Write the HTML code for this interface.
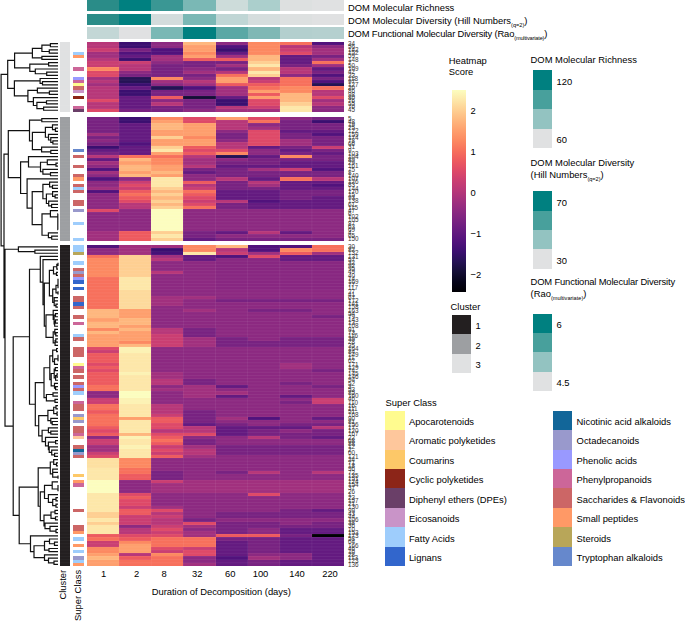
<!DOCTYPE html>
<html><head><meta charset="utf-8"><style>
html,body{margin:0;padding:0;background:#fff;}
body{width:685px;height:621px;overflow:hidden;position:relative;font-family:"Liberation Sans",sans-serif;color:#000;}
.t{position:absolute;white-space:nowrap;font-size:9.4px;line-height:1;transform:scaleY(1.03);transform-origin:0 7.96px;}
.sub{font-size:5.6px;vertical-align:-3.4px;}
.box{position:absolute;}
svg{position:absolute;left:0;top:0;}
#wrap{position:absolute;left:0;top:0;width:685px;height:621px;background:#fff;}
</style></head><body><div id="wrap">
<svg width="685" height="621" viewBox="0 0 685 621" font-family="Liberation Sans, sans-serif" shape-rendering="crispEdges">
<rect x="87.00" y="0" width="32.42" height="11.30" fill="#2a8c88"/>
<rect x="119.12" y="0" width="32.42" height="11.30" fill="#008080"/>
<rect x="151.25" y="0" width="32.42" height="11.30" fill="#3a9794"/>
<rect x="183.38" y="0" width="32.42" height="11.30" fill="#7ab8b5"/>
<rect x="215.50" y="0" width="32.42" height="11.30" fill="#cddcda"/>
<rect x="247.62" y="0" width="32.42" height="11.30" fill="#abcfcc"/>
<rect x="279.75" y="0" width="32.42" height="11.30" fill="#dde0e0"/>
<rect x="311.88" y="0" width="32.42" height="11.30" fill="#e0e1e2"/>
<rect x="87.00" y="13.6" width="32.42" height="11.30" fill="#2a8c88"/>
<rect x="119.12" y="13.6" width="32.42" height="11.30" fill="#008080"/>
<rect x="151.25" y="13.6" width="32.42" height="11.30" fill="#d3dcdc"/>
<rect x="183.38" y="13.6" width="32.42" height="11.30" fill="#7ab8b5"/>
<rect x="215.50" y="13.6" width="32.42" height="11.30" fill="#c0d6d5"/>
<rect x="247.62" y="13.6" width="32.42" height="11.30" fill="#d5dddd"/>
<rect x="279.75" y="13.6" width="32.42" height="11.30" fill="#dde0e0"/>
<rect x="311.88" y="13.6" width="32.42" height="11.30" fill="#e0e1e2"/>
<rect x="87.00" y="27.2" width="32.42" height="11.40" fill="#c3d7d6"/>
<rect x="119.12" y="27.2" width="32.42" height="11.40" fill="#e0e1e2"/>
<rect x="151.25" y="27.2" width="32.42" height="11.40" fill="#7ab8b5"/>
<rect x="183.38" y="27.2" width="32.42" height="11.40" fill="#008080"/>
<rect x="215.50" y="27.2" width="32.42" height="11.40" fill="#5aa8a5"/>
<rect x="247.62" y="27.2" width="32.42" height="11.40" fill="#7fb8b5"/>
<rect x="279.75" y="27.2" width="32.42" height="11.40" fill="#b3cfce"/>
<rect x="311.88" y="27.2" width="32.42" height="11.40" fill="#b5d0cf"/>
<rect x="87.00" y="42.00" width="32.42" height="3.47" fill="#b73779"/>
<rect x="119.12" y="42.00" width="32.42" height="3.47" fill="#3b0f70"/>
<rect x="151.25" y="42.00" width="32.42" height="3.47" fill="#8c2981"/>
<rect x="183.38" y="42.00" width="32.42" height="3.47" fill="#feb77e"/>
<rect x="215.50" y="42.00" width="32.42" height="3.47" fill="#8c2981"/>
<rect x="247.62" y="42.00" width="32.42" height="3.47" fill="#fc8961"/>
<rect x="279.75" y="42.00" width="32.42" height="3.47" fill="#f7705c"/>
<rect x="311.88" y="42.00" width="32.42" height="3.47" fill="#51127c"/>
<rect x="87.00" y="45.17" width="32.42" height="3.47" fill="#b73779"/>
<rect x="119.12" y="45.17" width="32.42" height="3.47" fill="#3b0f70"/>
<rect x="151.25" y="45.17" width="32.42" height="3.47" fill="#8c2981"/>
<rect x="183.38" y="45.17" width="32.42" height="3.47" fill="#fe9f6d"/>
<rect x="215.50" y="45.17" width="32.42" height="3.47" fill="#51127c"/>
<rect x="247.62" y="45.17" width="32.42" height="3.47" fill="#fc8961"/>
<rect x="279.75" y="45.17" width="32.42" height="3.47" fill="#b73779"/>
<rect x="311.88" y="45.17" width="32.42" height="3.47" fill="#8c2981"/>
<rect x="87.00" y="48.35" width="32.42" height="3.47" fill="#ca3e72"/>
<rect x="119.12" y="48.35" width="32.42" height="3.47" fill="#782281"/>
<rect x="151.25" y="48.35" width="32.42" height="3.47" fill="#51127c"/>
<rect x="183.38" y="48.35" width="32.42" height="3.47" fill="#fe9f6d"/>
<rect x="215.50" y="48.35" width="32.42" height="3.47" fill="#3b0f70"/>
<rect x="247.62" y="48.35" width="32.42" height="3.47" fill="#fc8961"/>
<rect x="279.75" y="48.35" width="32.42" height="3.47" fill="#ca3e72"/>
<rect x="311.88" y="48.35" width="32.42" height="3.47" fill="#a1307e"/>
<rect x="87.00" y="51.52" width="32.42" height="3.47" fill="#a1307e"/>
<rect x="119.12" y="51.52" width="32.42" height="3.47" fill="#51127c"/>
<rect x="151.25" y="51.52" width="32.42" height="3.47" fill="#51127c"/>
<rect x="183.38" y="51.52" width="32.42" height="3.47" fill="#fc8961"/>
<rect x="215.50" y="51.52" width="32.42" height="3.47" fill="#641a80"/>
<rect x="247.62" y="51.52" width="32.42" height="3.47" fill="#fc8961"/>
<rect x="279.75" y="51.52" width="32.42" height="3.47" fill="#de4968"/>
<rect x="311.88" y="51.52" width="32.42" height="3.47" fill="#a1307e"/>
<rect x="87.00" y="54.70" width="32.42" height="3.47" fill="#a1307e"/>
<rect x="119.12" y="54.70" width="32.42" height="3.47" fill="#641a80"/>
<rect x="151.25" y="54.70" width="32.42" height="3.47" fill="#a1307e"/>
<rect x="183.38" y="54.70" width="32.42" height="3.47" fill="#fe9f6d"/>
<rect x="215.50" y="54.70" width="32.42" height="3.47" fill="#a1307e"/>
<rect x="247.62" y="54.70" width="32.42" height="3.47" fill="#feb77e"/>
<rect x="279.75" y="54.70" width="32.42" height="3.47" fill="#641a80"/>
<rect x="311.88" y="54.70" width="32.42" height="3.47" fill="#782281"/>
<rect x="87.00" y="57.88" width="32.42" height="3.47" fill="#b73779"/>
<rect x="119.12" y="57.88" width="32.42" height="3.47" fill="#3b0f70"/>
<rect x="151.25" y="57.88" width="32.42" height="3.47" fill="#a1307e"/>
<rect x="183.38" y="57.88" width="32.42" height="3.47" fill="#ed5a5f"/>
<rect x="215.50" y="57.88" width="32.42" height="3.47" fill="#ed5a5f"/>
<rect x="247.62" y="57.88" width="32.42" height="3.47" fill="#feb77e"/>
<rect x="279.75" y="57.88" width="32.42" height="3.47" fill="#641a80"/>
<rect x="311.88" y="57.88" width="32.42" height="3.47" fill="#a1307e"/>
<rect x="87.00" y="61.05" width="32.42" height="3.47" fill="#ca3e72"/>
<rect x="119.12" y="61.05" width="32.42" height="3.47" fill="#ca3e72"/>
<rect x="151.25" y="61.05" width="32.42" height="3.47" fill="#8c2981"/>
<rect x="183.38" y="61.05" width="32.42" height="3.47" fill="#782281"/>
<rect x="215.50" y="61.05" width="32.42" height="3.47" fill="#782281"/>
<rect x="247.62" y="61.05" width="32.42" height="3.47" fill="#fecf92"/>
<rect x="279.75" y="61.05" width="32.42" height="3.47" fill="#641a80"/>
<rect x="311.88" y="61.05" width="32.42" height="3.47" fill="#f7705c"/>
<rect x="87.00" y="64.22" width="32.42" height="3.47" fill="#ca3e72"/>
<rect x="119.12" y="64.22" width="32.42" height="3.47" fill="#b73779"/>
<rect x="151.25" y="64.22" width="32.42" height="3.47" fill="#782281"/>
<rect x="183.38" y="64.22" width="32.42" height="3.47" fill="#782281"/>
<rect x="215.50" y="64.22" width="32.42" height="3.47" fill="#a1307e"/>
<rect x="247.62" y="64.22" width="32.42" height="3.47" fill="#fde7a9"/>
<rect x="279.75" y="64.22" width="32.42" height="3.47" fill="#782281"/>
<rect x="311.88" y="64.22" width="32.42" height="3.47" fill="#a1307e"/>
<rect x="87.00" y="67.40" width="32.42" height="3.47" fill="#fc8961"/>
<rect x="119.12" y="67.40" width="32.42" height="3.47" fill="#b73779"/>
<rect x="151.25" y="67.40" width="32.42" height="3.47" fill="#782281"/>
<rect x="183.38" y="67.40" width="32.42" height="3.47" fill="#8c2981"/>
<rect x="215.50" y="67.40" width="32.42" height="3.47" fill="#782281"/>
<rect x="247.62" y="67.40" width="32.42" height="3.47" fill="#feb77e"/>
<rect x="279.75" y="67.40" width="32.42" height="3.47" fill="#b73779"/>
<rect x="311.88" y="67.40" width="32.42" height="3.47" fill="#641a80"/>
<rect x="87.00" y="70.58" width="32.42" height="3.47" fill="#de4968"/>
<rect x="119.12" y="70.58" width="32.42" height="3.47" fill="#8c2981"/>
<rect x="151.25" y="70.58" width="32.42" height="3.47" fill="#782281"/>
<rect x="183.38" y="70.58" width="32.42" height="3.47" fill="#a1307e"/>
<rect x="215.50" y="70.58" width="32.42" height="3.47" fill="#b73779"/>
<rect x="247.62" y="70.58" width="32.42" height="3.47" fill="#fde7a9"/>
<rect x="279.75" y="70.58" width="32.42" height="3.47" fill="#b73779"/>
<rect x="311.88" y="70.58" width="32.42" height="3.47" fill="#782281"/>
<rect x="87.00" y="73.75" width="32.42" height="3.47" fill="#de4968"/>
<rect x="119.12" y="73.75" width="32.42" height="3.47" fill="#782281"/>
<rect x="151.25" y="73.75" width="32.42" height="3.47" fill="#782281"/>
<rect x="183.38" y="73.75" width="32.42" height="3.47" fill="#782281"/>
<rect x="215.50" y="73.75" width="32.42" height="3.47" fill="#f7705c"/>
<rect x="247.62" y="73.75" width="32.42" height="3.47" fill="#fecf92"/>
<rect x="279.75" y="73.75" width="32.42" height="3.47" fill="#8c2981"/>
<rect x="311.88" y="73.75" width="32.42" height="3.47" fill="#51127c"/>
<rect x="87.00" y="76.92" width="32.42" height="3.47" fill="#a1307e"/>
<rect x="119.12" y="76.92" width="32.42" height="3.47" fill="#251255"/>
<rect x="151.25" y="76.92" width="32.42" height="3.47" fill="#fc8961"/>
<rect x="183.38" y="76.92" width="32.42" height="3.47" fill="#8c2981"/>
<rect x="215.50" y="76.92" width="32.42" height="3.47" fill="#fe9f6d"/>
<rect x="247.62" y="76.92" width="32.42" height="3.47" fill="#b73779"/>
<rect x="279.75" y="76.92" width="32.42" height="3.47" fill="#f7705c"/>
<rect x="311.88" y="76.92" width="32.42" height="3.47" fill="#782281"/>
<rect x="87.00" y="80.10" width="32.42" height="3.47" fill="#b73779"/>
<rect x="119.12" y="80.10" width="32.42" height="3.47" fill="#251255"/>
<rect x="151.25" y="80.10" width="32.42" height="3.47" fill="#a1307e"/>
<rect x="183.38" y="80.10" width="32.42" height="3.47" fill="#b73779"/>
<rect x="215.50" y="80.10" width="32.42" height="3.47" fill="#fe9f6d"/>
<rect x="247.62" y="80.10" width="32.42" height="3.47" fill="#ca3e72"/>
<rect x="279.75" y="80.10" width="32.42" height="3.47" fill="#f7705c"/>
<rect x="311.88" y="80.10" width="32.42" height="3.47" fill="#51127c"/>
<rect x="87.00" y="83.28" width="32.42" height="3.47" fill="#a1307e"/>
<rect x="119.12" y="83.28" width="32.42" height="3.47" fill="#3b0f70"/>
<rect x="151.25" y="83.28" width="32.42" height="3.47" fill="#8c2981"/>
<rect x="183.38" y="83.28" width="32.42" height="3.47" fill="#a1307e"/>
<rect x="215.50" y="83.28" width="32.42" height="3.47" fill="#ed5a5f"/>
<rect x="247.62" y="83.28" width="32.42" height="3.47" fill="#ed5a5f"/>
<rect x="279.75" y="83.28" width="32.42" height="3.47" fill="#f7705c"/>
<rect x="311.88" y="83.28" width="32.42" height="3.47" fill="#251255"/>
<rect x="87.00" y="86.45" width="32.42" height="3.47" fill="#b73779"/>
<rect x="119.12" y="86.45" width="32.42" height="3.47" fill="#641a80"/>
<rect x="151.25" y="86.45" width="32.42" height="3.47" fill="#251255"/>
<rect x="183.38" y="86.45" width="32.42" height="3.47" fill="#51127c"/>
<rect x="215.50" y="86.45" width="32.42" height="3.47" fill="#a1307e"/>
<rect x="247.62" y="86.45" width="32.42" height="3.47" fill="#f7705c"/>
<rect x="279.75" y="86.45" width="32.42" height="3.47" fill="#fc8961"/>
<rect x="311.88" y="86.45" width="32.42" height="3.47" fill="#f7705c"/>
<rect x="87.00" y="89.62" width="32.42" height="3.47" fill="#b73779"/>
<rect x="119.12" y="89.62" width="32.42" height="3.47" fill="#3b0f70"/>
<rect x="151.25" y="89.62" width="32.42" height="3.47" fill="#782281"/>
<rect x="183.38" y="89.62" width="32.42" height="3.47" fill="#782281"/>
<rect x="215.50" y="89.62" width="32.42" height="3.47" fill="#a1307e"/>
<rect x="247.62" y="89.62" width="32.42" height="3.47" fill="#fe9f6d"/>
<rect x="279.75" y="89.62" width="32.42" height="3.47" fill="#fc8961"/>
<rect x="311.88" y="89.62" width="32.42" height="3.47" fill="#b73779"/>
<rect x="87.00" y="92.80" width="32.42" height="3.47" fill="#b73779"/>
<rect x="119.12" y="92.80" width="32.42" height="3.47" fill="#3b0f70"/>
<rect x="151.25" y="92.80" width="32.42" height="3.47" fill="#782281"/>
<rect x="183.38" y="92.80" width="32.42" height="3.47" fill="#782281"/>
<rect x="215.50" y="92.80" width="32.42" height="3.47" fill="#a1307e"/>
<rect x="247.62" y="92.80" width="32.42" height="3.47" fill="#ed5a5f"/>
<rect x="279.75" y="92.80" width="32.42" height="3.47" fill="#feb77e"/>
<rect x="311.88" y="92.80" width="32.42" height="3.47" fill="#b73779"/>
<rect x="87.00" y="95.97" width="32.42" height="3.47" fill="#b73779"/>
<rect x="119.12" y="95.97" width="32.42" height="3.47" fill="#641a80"/>
<rect x="151.25" y="95.97" width="32.42" height="3.47" fill="#ed5a5f"/>
<rect x="183.38" y="95.97" width="32.42" height="3.47" fill="#140e36"/>
<rect x="215.50" y="95.97" width="32.42" height="3.47" fill="#641a80"/>
<rect x="247.62" y="95.97" width="32.42" height="3.47" fill="#fe9f6d"/>
<rect x="279.75" y="95.97" width="32.42" height="3.47" fill="#feb77e"/>
<rect x="311.88" y="95.97" width="32.42" height="3.47" fill="#de4968"/>
<rect x="87.00" y="99.15" width="32.42" height="3.47" fill="#de4968"/>
<rect x="119.12" y="99.15" width="32.42" height="3.47" fill="#641a80"/>
<rect x="151.25" y="99.15" width="32.42" height="3.47" fill="#8c2981"/>
<rect x="183.38" y="99.15" width="32.42" height="3.47" fill="#782281"/>
<rect x="215.50" y="99.15" width="32.42" height="3.47" fill="#3b0f70"/>
<rect x="247.62" y="99.15" width="32.42" height="3.47" fill="#de4968"/>
<rect x="279.75" y="99.15" width="32.42" height="3.47" fill="#feb77e"/>
<rect x="311.88" y="99.15" width="32.42" height="3.47" fill="#a1307e"/>
<rect x="87.00" y="102.32" width="32.42" height="3.47" fill="#b73779"/>
<rect x="119.12" y="102.32" width="32.42" height="3.47" fill="#641a80"/>
<rect x="151.25" y="102.32" width="32.42" height="3.47" fill="#b73779"/>
<rect x="183.38" y="102.32" width="32.42" height="3.47" fill="#782281"/>
<rect x="215.50" y="102.32" width="32.42" height="3.47" fill="#3b0f70"/>
<rect x="247.62" y="102.32" width="32.42" height="3.47" fill="#de4968"/>
<rect x="279.75" y="102.32" width="32.42" height="3.47" fill="#fecf92"/>
<rect x="311.88" y="102.32" width="32.42" height="3.47" fill="#b73779"/>
<rect x="87.00" y="105.50" width="32.42" height="3.47" fill="#b73779"/>
<rect x="119.12" y="105.50" width="32.42" height="3.47" fill="#641a80"/>
<rect x="151.25" y="105.50" width="32.42" height="3.47" fill="#782281"/>
<rect x="183.38" y="105.50" width="32.42" height="3.47" fill="#782281"/>
<rect x="215.50" y="105.50" width="32.42" height="3.47" fill="#b73779"/>
<rect x="247.62" y="105.50" width="32.42" height="3.47" fill="#ca3e72"/>
<rect x="279.75" y="105.50" width="32.42" height="3.47" fill="#fde7a9"/>
<rect x="311.88" y="105.50" width="32.42" height="3.47" fill="#8c2981"/>
<rect x="87.00" y="108.67" width="32.42" height="3.47" fill="#de4968"/>
<rect x="119.12" y="108.67" width="32.42" height="3.47" fill="#782281"/>
<rect x="151.25" y="108.67" width="32.42" height="3.47" fill="#782281"/>
<rect x="183.38" y="108.67" width="32.42" height="3.47" fill="#8c2981"/>
<rect x="215.50" y="108.67" width="32.42" height="3.47" fill="#a1307e"/>
<rect x="247.62" y="108.67" width="32.42" height="3.47" fill="#a1307e"/>
<rect x="279.75" y="108.67" width="32.42" height="3.47" fill="#fde7a9"/>
<rect x="311.88" y="108.67" width="32.42" height="3.47" fill="#8c2981"/>
<rect x="87.00" y="117.00" width="32.42" height="3.47" fill="#782281"/>
<rect x="119.12" y="117.00" width="32.42" height="3.47" fill="#3b0f70"/>
<rect x="151.25" y="117.00" width="32.42" height="3.47" fill="#fc8961"/>
<rect x="183.38" y="117.00" width="32.42" height="3.47" fill="#de4968"/>
<rect x="215.50" y="117.00" width="32.42" height="3.47" fill="#fe9f6d"/>
<rect x="247.62" y="117.00" width="32.42" height="3.47" fill="#de4968"/>
<rect x="279.75" y="117.00" width="32.42" height="3.47" fill="#8c2981"/>
<rect x="311.88" y="117.00" width="32.42" height="3.47" fill="#782281"/>
<rect x="87.00" y="120.17" width="32.42" height="3.47" fill="#782281"/>
<rect x="119.12" y="120.17" width="32.42" height="3.47" fill="#3b0f70"/>
<rect x="151.25" y="120.17" width="32.42" height="3.47" fill="#fe9f6d"/>
<rect x="183.38" y="120.17" width="32.42" height="3.47" fill="#de4968"/>
<rect x="215.50" y="120.17" width="32.42" height="3.47" fill="#b73779"/>
<rect x="247.62" y="120.17" width="32.42" height="3.47" fill="#f7705c"/>
<rect x="279.75" y="120.17" width="32.42" height="3.47" fill="#782281"/>
<rect x="311.88" y="120.17" width="32.42" height="3.47" fill="#3b0f70"/>
<rect x="87.00" y="123.35" width="32.42" height="3.47" fill="#782281"/>
<rect x="119.12" y="123.35" width="32.42" height="3.47" fill="#641a80"/>
<rect x="151.25" y="123.35" width="32.42" height="3.47" fill="#feb77e"/>
<rect x="183.38" y="123.35" width="32.42" height="3.47" fill="#fe9f6d"/>
<rect x="215.50" y="123.35" width="32.42" height="3.47" fill="#b73779"/>
<rect x="247.62" y="123.35" width="32.42" height="3.47" fill="#8c2981"/>
<rect x="279.75" y="123.35" width="32.42" height="3.47" fill="#782281"/>
<rect x="311.88" y="123.35" width="32.42" height="3.47" fill="#782281"/>
<rect x="87.00" y="126.53" width="32.42" height="3.47" fill="#782281"/>
<rect x="119.12" y="126.53" width="32.42" height="3.47" fill="#641a80"/>
<rect x="151.25" y="126.53" width="32.42" height="3.47" fill="#feb77e"/>
<rect x="183.38" y="126.53" width="32.42" height="3.47" fill="#fe9f6d"/>
<rect x="215.50" y="126.53" width="32.42" height="3.47" fill="#b73779"/>
<rect x="247.62" y="126.53" width="32.42" height="3.47" fill="#a1307e"/>
<rect x="279.75" y="126.53" width="32.42" height="3.47" fill="#782281"/>
<rect x="311.88" y="126.53" width="32.42" height="3.47" fill="#782281"/>
<rect x="87.00" y="129.70" width="32.42" height="3.47" fill="#782281"/>
<rect x="119.12" y="129.70" width="32.42" height="3.47" fill="#641a80"/>
<rect x="151.25" y="129.70" width="32.42" height="3.47" fill="#fe9f6d"/>
<rect x="183.38" y="129.70" width="32.42" height="3.47" fill="#fe9f6d"/>
<rect x="215.50" y="129.70" width="32.42" height="3.47" fill="#8c2981"/>
<rect x="247.62" y="129.70" width="32.42" height="3.47" fill="#de4968"/>
<rect x="279.75" y="129.70" width="32.42" height="3.47" fill="#641a80"/>
<rect x="311.88" y="129.70" width="32.42" height="3.47" fill="#641a80"/>
<rect x="87.00" y="132.88" width="32.42" height="3.47" fill="#a1307e"/>
<rect x="119.12" y="132.88" width="32.42" height="3.47" fill="#641a80"/>
<rect x="151.25" y="132.88" width="32.42" height="3.47" fill="#fe9f6d"/>
<rect x="183.38" y="132.88" width="32.42" height="3.47" fill="#fe9f6d"/>
<rect x="215.50" y="132.88" width="32.42" height="3.47" fill="#782281"/>
<rect x="247.62" y="132.88" width="32.42" height="3.47" fill="#de4968"/>
<rect x="279.75" y="132.88" width="32.42" height="3.47" fill="#782281"/>
<rect x="311.88" y="132.88" width="32.42" height="3.47" fill="#51127c"/>
<rect x="87.00" y="136.05" width="32.42" height="3.47" fill="#782281"/>
<rect x="119.12" y="136.05" width="32.42" height="3.47" fill="#641a80"/>
<rect x="151.25" y="136.05" width="32.42" height="3.47" fill="#fecf92"/>
<rect x="183.38" y="136.05" width="32.42" height="3.47" fill="#fc8961"/>
<rect x="215.50" y="136.05" width="32.42" height="3.47" fill="#782281"/>
<rect x="247.62" y="136.05" width="32.42" height="3.47" fill="#de4968"/>
<rect x="279.75" y="136.05" width="32.42" height="3.47" fill="#782281"/>
<rect x="311.88" y="136.05" width="32.42" height="3.47" fill="#782281"/>
<rect x="87.00" y="139.22" width="32.42" height="3.47" fill="#8c2981"/>
<rect x="119.12" y="139.22" width="32.42" height="3.47" fill="#641a80"/>
<rect x="151.25" y="139.22" width="32.42" height="3.47" fill="#fe9f6d"/>
<rect x="183.38" y="139.22" width="32.42" height="3.47" fill="#fe9f6d"/>
<rect x="215.50" y="139.22" width="32.42" height="3.47" fill="#8c2981"/>
<rect x="247.62" y="139.22" width="32.42" height="3.47" fill="#de4968"/>
<rect x="279.75" y="139.22" width="32.42" height="3.47" fill="#a1307e"/>
<rect x="311.88" y="139.22" width="32.42" height="3.47" fill="#782281"/>
<rect x="87.00" y="142.40" width="32.42" height="3.47" fill="#782281"/>
<rect x="119.12" y="142.40" width="32.42" height="3.47" fill="#51127c"/>
<rect x="151.25" y="142.40" width="32.42" height="3.47" fill="#fe9f6d"/>
<rect x="183.38" y="142.40" width="32.42" height="3.47" fill="#fe9f6d"/>
<rect x="215.50" y="142.40" width="32.42" height="3.47" fill="#b73779"/>
<rect x="247.62" y="142.40" width="32.42" height="3.47" fill="#de4968"/>
<rect x="279.75" y="142.40" width="32.42" height="3.47" fill="#a1307e"/>
<rect x="311.88" y="142.40" width="32.42" height="3.47" fill="#782281"/>
<rect x="87.00" y="145.57" width="32.42" height="3.47" fill="#3b0f70"/>
<rect x="119.12" y="145.57" width="32.42" height="3.47" fill="#641a80"/>
<rect x="151.25" y="145.57" width="32.42" height="3.47" fill="#fecf92"/>
<rect x="183.38" y="145.57" width="32.42" height="3.47" fill="#ed5a5f"/>
<rect x="215.50" y="145.57" width="32.42" height="3.47" fill="#b73779"/>
<rect x="247.62" y="145.57" width="32.42" height="3.47" fill="#641a80"/>
<rect x="279.75" y="145.57" width="32.42" height="3.47" fill="#782281"/>
<rect x="311.88" y="145.57" width="32.42" height="3.47" fill="#ca3e72"/>
<rect x="87.00" y="148.75" width="32.42" height="3.47" fill="#641a80"/>
<rect x="119.12" y="148.75" width="32.42" height="3.47" fill="#641a80"/>
<rect x="151.25" y="148.75" width="32.42" height="3.47" fill="#fde7a9"/>
<rect x="183.38" y="148.75" width="32.42" height="3.47" fill="#de4968"/>
<rect x="215.50" y="148.75" width="32.42" height="3.47" fill="#de4968"/>
<rect x="247.62" y="148.75" width="32.42" height="3.47" fill="#8c2981"/>
<rect x="279.75" y="148.75" width="32.42" height="3.47" fill="#641a80"/>
<rect x="311.88" y="148.75" width="32.42" height="3.47" fill="#782281"/>
<rect x="87.00" y="151.93" width="32.42" height="3.47" fill="#782281"/>
<rect x="119.12" y="151.93" width="32.42" height="3.47" fill="#641a80"/>
<rect x="151.25" y="151.93" width="32.42" height="3.47" fill="#fe9f6d"/>
<rect x="183.38" y="151.93" width="32.42" height="3.47" fill="#ed5a5f"/>
<rect x="215.50" y="151.93" width="32.42" height="3.47" fill="#fc8961"/>
<rect x="247.62" y="151.93" width="32.42" height="3.47" fill="#8c2981"/>
<rect x="279.75" y="151.93" width="32.42" height="3.47" fill="#782281"/>
<rect x="311.88" y="151.93" width="32.42" height="3.47" fill="#641a80"/>
<rect x="87.00" y="155.10" width="32.42" height="3.47" fill="#b73779"/>
<rect x="119.12" y="155.10" width="32.42" height="3.47" fill="#f7705c"/>
<rect x="151.25" y="155.10" width="32.42" height="3.47" fill="#f7705c"/>
<rect x="183.38" y="155.10" width="32.42" height="3.47" fill="#b73779"/>
<rect x="215.50" y="155.10" width="32.42" height="3.47" fill="#251255"/>
<rect x="247.62" y="155.10" width="32.42" height="3.47" fill="#641a80"/>
<rect x="279.75" y="155.10" width="32.42" height="3.47" fill="#fc8961"/>
<rect x="311.88" y="155.10" width="32.42" height="3.47" fill="#782281"/>
<rect x="87.00" y="158.28" width="32.42" height="3.47" fill="#641a80"/>
<rect x="119.12" y="158.28" width="32.42" height="3.47" fill="#feb77e"/>
<rect x="151.25" y="158.28" width="32.42" height="3.47" fill="#fc8961"/>
<rect x="183.38" y="158.28" width="32.42" height="3.47" fill="#a1307e"/>
<rect x="215.50" y="158.28" width="32.42" height="3.47" fill="#8c2981"/>
<rect x="247.62" y="158.28" width="32.42" height="3.47" fill="#782281"/>
<rect x="279.75" y="158.28" width="32.42" height="3.47" fill="#782281"/>
<rect x="311.88" y="158.28" width="32.42" height="3.47" fill="#782281"/>
<rect x="87.00" y="161.45" width="32.42" height="3.47" fill="#a1307e"/>
<rect x="119.12" y="161.45" width="32.42" height="3.47" fill="#fe9f6d"/>
<rect x="151.25" y="161.45" width="32.42" height="3.47" fill="#fc8961"/>
<rect x="183.38" y="161.45" width="32.42" height="3.47" fill="#a1307e"/>
<rect x="215.50" y="161.45" width="32.42" height="3.47" fill="#782281"/>
<rect x="247.62" y="161.45" width="32.42" height="3.47" fill="#782281"/>
<rect x="279.75" y="161.45" width="32.42" height="3.47" fill="#641a80"/>
<rect x="311.88" y="161.45" width="32.42" height="3.47" fill="#641a80"/>
<rect x="87.00" y="164.62" width="32.42" height="3.47" fill="#8c2981"/>
<rect x="119.12" y="164.62" width="32.42" height="3.47" fill="#feb77e"/>
<rect x="151.25" y="164.62" width="32.42" height="3.47" fill="#fe9f6d"/>
<rect x="183.38" y="164.62" width="32.42" height="3.47" fill="#b73779"/>
<rect x="215.50" y="164.62" width="32.42" height="3.47" fill="#641a80"/>
<rect x="247.62" y="164.62" width="32.42" height="3.47" fill="#641a80"/>
<rect x="279.75" y="164.62" width="32.42" height="3.47" fill="#641a80"/>
<rect x="311.88" y="164.62" width="32.42" height="3.47" fill="#641a80"/>
<rect x="87.00" y="167.80" width="32.42" height="3.47" fill="#51127c"/>
<rect x="119.12" y="167.80" width="32.42" height="3.47" fill="#feb77e"/>
<rect x="151.25" y="167.80" width="32.42" height="3.47" fill="#fe9f6d"/>
<rect x="183.38" y="167.80" width="32.42" height="3.47" fill="#782281"/>
<rect x="215.50" y="167.80" width="32.42" height="3.47" fill="#782281"/>
<rect x="247.62" y="167.80" width="32.42" height="3.47" fill="#a1307e"/>
<rect x="279.75" y="167.80" width="32.42" height="3.47" fill="#ca3e72"/>
<rect x="311.88" y="167.80" width="32.42" height="3.47" fill="#51127c"/>
<rect x="87.00" y="170.97" width="32.42" height="3.47" fill="#a1307e"/>
<rect x="119.12" y="170.97" width="32.42" height="3.47" fill="#fe9f6d"/>
<rect x="151.25" y="170.97" width="32.42" height="3.47" fill="#feb77e"/>
<rect x="183.38" y="170.97" width="32.42" height="3.47" fill="#641a80"/>
<rect x="215.50" y="170.97" width="32.42" height="3.47" fill="#782281"/>
<rect x="247.62" y="170.97" width="32.42" height="3.47" fill="#782281"/>
<rect x="279.75" y="170.97" width="32.42" height="3.47" fill="#782281"/>
<rect x="311.88" y="170.97" width="32.42" height="3.47" fill="#782281"/>
<rect x="87.00" y="174.15" width="32.42" height="3.47" fill="#8c2981"/>
<rect x="119.12" y="174.15" width="32.42" height="3.47" fill="#feb77e"/>
<rect x="151.25" y="174.15" width="32.42" height="3.47" fill="#fe9f6d"/>
<rect x="183.38" y="174.15" width="32.42" height="3.47" fill="#8c2981"/>
<rect x="215.50" y="174.15" width="32.42" height="3.47" fill="#782281"/>
<rect x="247.62" y="174.15" width="32.42" height="3.47" fill="#782281"/>
<rect x="279.75" y="174.15" width="32.42" height="3.47" fill="#782281"/>
<rect x="311.88" y="174.15" width="32.42" height="3.47" fill="#782281"/>
<rect x="87.00" y="177.32" width="32.42" height="3.47" fill="#51127c"/>
<rect x="119.12" y="177.32" width="32.42" height="3.47" fill="#8c2981"/>
<rect x="151.25" y="177.32" width="32.42" height="3.47" fill="#fde7a9"/>
<rect x="183.38" y="177.32" width="32.42" height="3.47" fill="#8c2981"/>
<rect x="215.50" y="177.32" width="32.42" height="3.47" fill="#b73779"/>
<rect x="247.62" y="177.32" width="32.42" height="3.47" fill="#641a80"/>
<rect x="279.75" y="177.32" width="32.42" height="3.47" fill="#f7705c"/>
<rect x="311.88" y="177.32" width="32.42" height="3.47" fill="#b73779"/>
<rect x="87.00" y="180.50" width="32.42" height="3.47" fill="#8c2981"/>
<rect x="119.12" y="180.50" width="32.42" height="3.47" fill="#ca3e72"/>
<rect x="151.25" y="180.50" width="32.42" height="3.47" fill="#fde7a9"/>
<rect x="183.38" y="180.50" width="32.42" height="3.47" fill="#ed5a5f"/>
<rect x="215.50" y="180.50" width="32.42" height="3.47" fill="#782281"/>
<rect x="247.62" y="180.50" width="32.42" height="3.47" fill="#b73779"/>
<rect x="279.75" y="180.50" width="32.42" height="3.47" fill="#641a80"/>
<rect x="311.88" y="180.50" width="32.42" height="3.47" fill="#641a80"/>
<rect x="87.00" y="183.68" width="32.42" height="3.47" fill="#8c2981"/>
<rect x="119.12" y="183.68" width="32.42" height="3.47" fill="#de4968"/>
<rect x="151.25" y="183.68" width="32.42" height="3.47" fill="#fde7a9"/>
<rect x="183.38" y="183.68" width="32.42" height="3.47" fill="#b73779"/>
<rect x="215.50" y="183.68" width="32.42" height="3.47" fill="#782281"/>
<rect x="247.62" y="183.68" width="32.42" height="3.47" fill="#a1307e"/>
<rect x="279.75" y="183.68" width="32.42" height="3.47" fill="#641a80"/>
<rect x="311.88" y="183.68" width="32.42" height="3.47" fill="#51127c"/>
<rect x="87.00" y="186.85" width="32.42" height="3.47" fill="#a1307e"/>
<rect x="119.12" y="186.85" width="32.42" height="3.47" fill="#ca3e72"/>
<rect x="151.25" y="186.85" width="32.42" height="3.47" fill="#fecf92"/>
<rect x="183.38" y="186.85" width="32.42" height="3.47" fill="#ca3e72"/>
<rect x="215.50" y="186.85" width="32.42" height="3.47" fill="#782281"/>
<rect x="247.62" y="186.85" width="32.42" height="3.47" fill="#782281"/>
<rect x="279.75" y="186.85" width="32.42" height="3.47" fill="#641a80"/>
<rect x="311.88" y="186.85" width="32.42" height="3.47" fill="#641a80"/>
<rect x="87.00" y="190.02" width="32.42" height="3.47" fill="#51127c"/>
<rect x="119.12" y="190.02" width="32.42" height="3.47" fill="#ed5a5f"/>
<rect x="151.25" y="190.02" width="32.42" height="3.47" fill="#feb77e"/>
<rect x="183.38" y="190.02" width="32.42" height="3.47" fill="#f7705c"/>
<rect x="215.50" y="190.02" width="32.42" height="3.47" fill="#641a80"/>
<rect x="247.62" y="190.02" width="32.42" height="3.47" fill="#641a80"/>
<rect x="279.75" y="190.02" width="32.42" height="3.47" fill="#782281"/>
<rect x="311.88" y="190.02" width="32.42" height="3.47" fill="#782281"/>
<rect x="87.00" y="193.20" width="32.42" height="3.47" fill="#8c2981"/>
<rect x="119.12" y="193.20" width="32.42" height="3.47" fill="#f7705c"/>
<rect x="151.25" y="193.20" width="32.42" height="3.47" fill="#fecf92"/>
<rect x="183.38" y="193.20" width="32.42" height="3.47" fill="#ed5a5f"/>
<rect x="215.50" y="193.20" width="32.42" height="3.47" fill="#641a80"/>
<rect x="247.62" y="193.20" width="32.42" height="3.47" fill="#641a80"/>
<rect x="279.75" y="193.20" width="32.42" height="3.47" fill="#782281"/>
<rect x="311.88" y="193.20" width="32.42" height="3.47" fill="#782281"/>
<rect x="87.00" y="196.38" width="32.42" height="3.47" fill="#8c2981"/>
<rect x="119.12" y="196.38" width="32.42" height="3.47" fill="#ed5a5f"/>
<rect x="151.25" y="196.38" width="32.42" height="3.47" fill="#feb77e"/>
<rect x="183.38" y="196.38" width="32.42" height="3.47" fill="#de4968"/>
<rect x="215.50" y="196.38" width="32.42" height="3.47" fill="#641a80"/>
<rect x="247.62" y="196.38" width="32.42" height="3.47" fill="#641a80"/>
<rect x="279.75" y="196.38" width="32.42" height="3.47" fill="#782281"/>
<rect x="311.88" y="196.38" width="32.42" height="3.47" fill="#641a80"/>
<rect x="87.00" y="199.55" width="32.42" height="3.47" fill="#8c2981"/>
<rect x="119.12" y="199.55" width="32.42" height="3.47" fill="#de4968"/>
<rect x="151.25" y="199.55" width="32.42" height="3.47" fill="#fecf92"/>
<rect x="183.38" y="199.55" width="32.42" height="3.47" fill="#ca3e72"/>
<rect x="215.50" y="199.55" width="32.42" height="3.47" fill="#b73779"/>
<rect x="247.62" y="199.55" width="32.42" height="3.47" fill="#51127c"/>
<rect x="279.75" y="199.55" width="32.42" height="3.47" fill="#641a80"/>
<rect x="311.88" y="199.55" width="32.42" height="3.47" fill="#641a80"/>
<rect x="87.00" y="202.72" width="32.42" height="3.47" fill="#8c2981"/>
<rect x="119.12" y="202.72" width="32.42" height="3.47" fill="#b73779"/>
<rect x="151.25" y="202.72" width="32.42" height="3.47" fill="#feb77e"/>
<rect x="183.38" y="202.72" width="32.42" height="3.47" fill="#de4968"/>
<rect x="215.50" y="202.72" width="32.42" height="3.47" fill="#782281"/>
<rect x="247.62" y="202.72" width="32.42" height="3.47" fill="#641a80"/>
<rect x="279.75" y="202.72" width="32.42" height="3.47" fill="#641a80"/>
<rect x="311.88" y="202.72" width="32.42" height="3.47" fill="#641a80"/>
<rect x="87.00" y="205.90" width="32.42" height="3.47" fill="#8c2981"/>
<rect x="119.12" y="205.90" width="32.42" height="3.47" fill="#b73779"/>
<rect x="151.25" y="205.90" width="32.42" height="3.47" fill="#fecf92"/>
<rect x="183.38" y="205.90" width="32.42" height="3.47" fill="#f7705c"/>
<rect x="215.50" y="205.90" width="32.42" height="3.47" fill="#782281"/>
<rect x="247.62" y="205.90" width="32.42" height="3.47" fill="#641a80"/>
<rect x="279.75" y="205.90" width="32.42" height="3.47" fill="#641a80"/>
<rect x="311.88" y="205.90" width="32.42" height="3.47" fill="#641a80"/>
<rect x="87.00" y="209.07" width="32.42" height="3.47" fill="#de4968"/>
<rect x="119.12" y="209.07" width="32.42" height="3.47" fill="#8c2981"/>
<rect x="151.25" y="209.07" width="32.42" height="3.47" fill="#fcfdbf"/>
<rect x="183.38" y="209.07" width="32.42" height="3.47" fill="#8c2981"/>
<rect x="215.50" y="209.07" width="32.42" height="3.47" fill="#8c2981"/>
<rect x="247.62" y="209.07" width="32.42" height="3.47" fill="#8c2981"/>
<rect x="279.75" y="209.07" width="32.42" height="3.47" fill="#8c2981"/>
<rect x="311.88" y="209.07" width="32.42" height="3.47" fill="#8c2981"/>
<rect x="87.00" y="212.25" width="32.42" height="3.47" fill="#8c2981"/>
<rect x="119.12" y="212.25" width="32.42" height="3.47" fill="#8c2981"/>
<rect x="151.25" y="212.25" width="32.42" height="3.47" fill="#fcfdbf"/>
<rect x="183.38" y="212.25" width="32.42" height="3.47" fill="#8c2981"/>
<rect x="215.50" y="212.25" width="32.42" height="3.47" fill="#8c2981"/>
<rect x="247.62" y="212.25" width="32.42" height="3.47" fill="#8c2981"/>
<rect x="279.75" y="212.25" width="32.42" height="3.47" fill="#8c2981"/>
<rect x="311.88" y="212.25" width="32.42" height="3.47" fill="#8c2981"/>
<rect x="87.00" y="215.43" width="32.42" height="3.47" fill="#8c2981"/>
<rect x="119.12" y="215.43" width="32.42" height="3.47" fill="#8c2981"/>
<rect x="151.25" y="215.43" width="32.42" height="3.47" fill="#fcfdbf"/>
<rect x="183.38" y="215.43" width="32.42" height="3.47" fill="#8c2981"/>
<rect x="215.50" y="215.43" width="32.42" height="3.47" fill="#8c2981"/>
<rect x="247.62" y="215.43" width="32.42" height="3.47" fill="#8c2981"/>
<rect x="279.75" y="215.43" width="32.42" height="3.47" fill="#8c2981"/>
<rect x="311.88" y="215.43" width="32.42" height="3.47" fill="#8c2981"/>
<rect x="87.00" y="218.60" width="32.42" height="3.47" fill="#8c2981"/>
<rect x="119.12" y="218.60" width="32.42" height="3.47" fill="#8c2981"/>
<rect x="151.25" y="218.60" width="32.42" height="3.47" fill="#fcfdbf"/>
<rect x="183.38" y="218.60" width="32.42" height="3.47" fill="#8c2981"/>
<rect x="215.50" y="218.60" width="32.42" height="3.47" fill="#8c2981"/>
<rect x="247.62" y="218.60" width="32.42" height="3.47" fill="#8c2981"/>
<rect x="279.75" y="218.60" width="32.42" height="3.47" fill="#8c2981"/>
<rect x="311.88" y="218.60" width="32.42" height="3.47" fill="#8c2981"/>
<rect x="87.00" y="221.77" width="32.42" height="3.47" fill="#8c2981"/>
<rect x="119.12" y="221.77" width="32.42" height="3.47" fill="#8c2981"/>
<rect x="151.25" y="221.77" width="32.42" height="3.47" fill="#fcfdbf"/>
<rect x="183.38" y="221.77" width="32.42" height="3.47" fill="#8c2981"/>
<rect x="215.50" y="221.77" width="32.42" height="3.47" fill="#8c2981"/>
<rect x="247.62" y="221.77" width="32.42" height="3.47" fill="#8c2981"/>
<rect x="279.75" y="221.77" width="32.42" height="3.47" fill="#8c2981"/>
<rect x="311.88" y="221.77" width="32.42" height="3.47" fill="#8c2981"/>
<rect x="87.00" y="224.95" width="32.42" height="3.47" fill="#8c2981"/>
<rect x="119.12" y="224.95" width="32.42" height="3.47" fill="#8c2981"/>
<rect x="151.25" y="224.95" width="32.42" height="3.47" fill="#fcfdbf"/>
<rect x="183.38" y="224.95" width="32.42" height="3.47" fill="#8c2981"/>
<rect x="215.50" y="224.95" width="32.42" height="3.47" fill="#8c2981"/>
<rect x="247.62" y="224.95" width="32.42" height="3.47" fill="#8c2981"/>
<rect x="279.75" y="224.95" width="32.42" height="3.47" fill="#8c2981"/>
<rect x="311.88" y="224.95" width="32.42" height="3.47" fill="#8c2981"/>
<rect x="87.00" y="228.12" width="32.42" height="3.47" fill="#8c2981"/>
<rect x="119.12" y="228.12" width="32.42" height="3.47" fill="#8c2981"/>
<rect x="151.25" y="228.12" width="32.42" height="3.47" fill="#fcfdbf"/>
<rect x="183.38" y="228.12" width="32.42" height="3.47" fill="#8c2981"/>
<rect x="215.50" y="228.12" width="32.42" height="3.47" fill="#8c2981"/>
<rect x="247.62" y="228.12" width="32.42" height="3.47" fill="#8c2981"/>
<rect x="279.75" y="228.12" width="32.42" height="3.47" fill="#8c2981"/>
<rect x="311.88" y="228.12" width="32.42" height="3.47" fill="#8c2981"/>
<rect x="87.00" y="231.30" width="32.42" height="3.47" fill="#a1307e"/>
<rect x="119.12" y="231.30" width="32.42" height="3.47" fill="#ed5a5f"/>
<rect x="151.25" y="231.30" width="32.42" height="3.47" fill="#fecf92"/>
<rect x="183.38" y="231.30" width="32.42" height="3.47" fill="#782281"/>
<rect x="215.50" y="231.30" width="32.42" height="3.47" fill="#641a80"/>
<rect x="247.62" y="231.30" width="32.42" height="3.47" fill="#b73779"/>
<rect x="279.75" y="231.30" width="32.42" height="3.47" fill="#641a80"/>
<rect x="311.88" y="231.30" width="32.42" height="3.47" fill="#8c2981"/>
<rect x="87.00" y="234.47" width="32.42" height="3.47" fill="#a1307e"/>
<rect x="119.12" y="234.47" width="32.42" height="3.47" fill="#ed5a5f"/>
<rect x="151.25" y="234.47" width="32.42" height="3.47" fill="#fde7a9"/>
<rect x="183.38" y="234.47" width="32.42" height="3.47" fill="#782281"/>
<rect x="215.50" y="234.47" width="32.42" height="3.47" fill="#8c2981"/>
<rect x="247.62" y="234.47" width="32.42" height="3.47" fill="#8c2981"/>
<rect x="279.75" y="234.47" width="32.42" height="3.47" fill="#8c2981"/>
<rect x="311.88" y="234.47" width="32.42" height="3.47" fill="#8c2981"/>
<rect x="87.00" y="237.65" width="32.42" height="3.47" fill="#a1307e"/>
<rect x="119.12" y="237.65" width="32.42" height="3.47" fill="#ed5a5f"/>
<rect x="151.25" y="237.65" width="32.42" height="3.47" fill="#fecf92"/>
<rect x="183.38" y="237.65" width="32.42" height="3.47" fill="#641a80"/>
<rect x="215.50" y="237.65" width="32.42" height="3.47" fill="#782281"/>
<rect x="247.62" y="237.65" width="32.42" height="3.47" fill="#782281"/>
<rect x="279.75" y="237.65" width="32.42" height="3.47" fill="#782281"/>
<rect x="311.88" y="237.65" width="32.42" height="3.47" fill="#782281"/>
<rect x="87.00" y="245.30" width="32.42" height="3.47" fill="#51127c"/>
<rect x="119.12" y="245.30" width="32.42" height="3.47" fill="#a1307e"/>
<rect x="151.25" y="245.30" width="32.42" height="3.47" fill="#a1307e"/>
<rect x="183.38" y="245.30" width="32.42" height="3.47" fill="#fc8961"/>
<rect x="215.50" y="245.30" width="32.42" height="3.47" fill="#feb77e"/>
<rect x="247.62" y="245.30" width="32.42" height="3.47" fill="#51127c"/>
<rect x="279.75" y="245.30" width="32.42" height="3.47" fill="#51127c"/>
<rect x="311.88" y="245.30" width="32.42" height="3.47" fill="#f7705c"/>
<rect x="87.00" y="248.48" width="32.42" height="3.47" fill="#8c2981"/>
<rect x="119.12" y="248.48" width="32.42" height="3.47" fill="#a1307e"/>
<rect x="151.25" y="248.48" width="32.42" height="3.47" fill="#3b0f70"/>
<rect x="183.38" y="248.48" width="32.42" height="3.47" fill="#fc8961"/>
<rect x="215.50" y="248.48" width="32.42" height="3.47" fill="#b73779"/>
<rect x="247.62" y="248.48" width="32.42" height="3.47" fill="#51127c"/>
<rect x="279.75" y="248.48" width="32.42" height="3.47" fill="#fc8961"/>
<rect x="311.88" y="248.48" width="32.42" height="3.47" fill="#f7705c"/>
<rect x="87.00" y="251.65" width="32.42" height="3.47" fill="#8c2981"/>
<rect x="119.12" y="251.65" width="32.42" height="3.47" fill="#a1307e"/>
<rect x="151.25" y="251.65" width="32.42" height="3.47" fill="#451077"/>
<rect x="183.38" y="251.65" width="32.42" height="3.47" fill="#fde7a9"/>
<rect x="215.50" y="251.65" width="32.42" height="3.47" fill="#ca3e72"/>
<rect x="247.62" y="251.65" width="32.42" height="3.47" fill="#a1307e"/>
<rect x="279.75" y="251.65" width="32.42" height="3.47" fill="#ed5a5f"/>
<rect x="311.88" y="251.65" width="32.42" height="3.47" fill="#a1307e"/>
<rect x="87.00" y="254.83" width="32.42" height="3.47" fill="#f7705c"/>
<rect x="119.12" y="254.83" width="32.42" height="3.47" fill="#fecf92"/>
<rect x="151.25" y="254.83" width="32.42" height="3.47" fill="#a1307e"/>
<rect x="183.38" y="254.83" width="32.42" height="3.47" fill="#641a80"/>
<rect x="215.50" y="254.83" width="32.42" height="3.47" fill="#51127c"/>
<rect x="247.62" y="254.83" width="32.42" height="3.47" fill="#de4968"/>
<rect x="279.75" y="254.83" width="32.42" height="3.47" fill="#641a80"/>
<rect x="311.88" y="254.83" width="32.42" height="3.47" fill="#641a80"/>
<rect x="87.00" y="258.00" width="32.42" height="3.47" fill="#fc8961"/>
<rect x="119.12" y="258.00" width="32.42" height="3.47" fill="#fecf92"/>
<rect x="151.25" y="258.00" width="32.42" height="3.47" fill="#b73779"/>
<rect x="183.38" y="258.00" width="32.42" height="3.47" fill="#641a80"/>
<rect x="215.50" y="258.00" width="32.42" height="3.47" fill="#882781"/>
<rect x="247.62" y="258.00" width="32.42" height="3.47" fill="#882781"/>
<rect x="279.75" y="258.00" width="32.42" height="3.47" fill="#641a80"/>
<rect x="311.88" y="258.00" width="32.42" height="3.47" fill="#641a80"/>
<rect x="87.00" y="261.18" width="32.42" height="3.47" fill="#fc8961"/>
<rect x="119.12" y="261.18" width="32.42" height="3.47" fill="#fecf92"/>
<rect x="151.25" y="261.18" width="32.42" height="3.47" fill="#8c2981"/>
<rect x="183.38" y="261.18" width="32.42" height="3.47" fill="#8c2981"/>
<rect x="215.50" y="261.18" width="32.42" height="3.47" fill="#882781"/>
<rect x="247.62" y="261.18" width="32.42" height="3.47" fill="#882781"/>
<rect x="279.75" y="261.18" width="32.42" height="3.47" fill="#882781"/>
<rect x="311.88" y="261.18" width="32.42" height="3.47" fill="#882781"/>
<rect x="87.00" y="264.35" width="32.42" height="3.47" fill="#fc8961"/>
<rect x="119.12" y="264.35" width="32.42" height="3.47" fill="#fecf92"/>
<rect x="151.25" y="264.35" width="32.42" height="3.47" fill="#8c2981"/>
<rect x="183.38" y="264.35" width="32.42" height="3.47" fill="#8c2981"/>
<rect x="215.50" y="264.35" width="32.42" height="3.47" fill="#882781"/>
<rect x="247.62" y="264.35" width="32.42" height="3.47" fill="#882781"/>
<rect x="279.75" y="264.35" width="32.42" height="3.47" fill="#882781"/>
<rect x="311.88" y="264.35" width="32.42" height="3.47" fill="#882781"/>
<rect x="87.00" y="267.53" width="32.42" height="3.47" fill="#fc8961"/>
<rect x="119.12" y="267.53" width="32.42" height="3.47" fill="#fecf92"/>
<rect x="151.25" y="267.53" width="32.42" height="3.47" fill="#8c2981"/>
<rect x="183.38" y="267.53" width="32.42" height="3.47" fill="#8c2981"/>
<rect x="215.50" y="267.53" width="32.42" height="3.47" fill="#882781"/>
<rect x="247.62" y="267.53" width="32.42" height="3.47" fill="#882781"/>
<rect x="279.75" y="267.53" width="32.42" height="3.47" fill="#882781"/>
<rect x="311.88" y="267.53" width="32.42" height="3.47" fill="#882781"/>
<rect x="87.00" y="270.70" width="32.42" height="3.47" fill="#fc8961"/>
<rect x="119.12" y="270.70" width="32.42" height="3.47" fill="#fecf92"/>
<rect x="151.25" y="270.70" width="32.42" height="3.47" fill="#b73779"/>
<rect x="183.38" y="270.70" width="32.42" height="3.47" fill="#8c2981"/>
<rect x="215.50" y="270.70" width="32.42" height="3.47" fill="#882781"/>
<rect x="247.62" y="270.70" width="32.42" height="3.47" fill="#882781"/>
<rect x="279.75" y="270.70" width="32.42" height="3.47" fill="#882781"/>
<rect x="311.88" y="270.70" width="32.42" height="3.47" fill="#882781"/>
<rect x="87.00" y="273.88" width="32.42" height="3.47" fill="#fc8961"/>
<rect x="119.12" y="273.88" width="32.42" height="3.47" fill="#fecf92"/>
<rect x="151.25" y="273.88" width="32.42" height="3.47" fill="#8c2981"/>
<rect x="183.38" y="273.88" width="32.42" height="3.47" fill="#8c2981"/>
<rect x="215.50" y="273.88" width="32.42" height="3.47" fill="#882781"/>
<rect x="247.62" y="273.88" width="32.42" height="3.47" fill="#882781"/>
<rect x="279.75" y="273.88" width="32.42" height="3.47" fill="#882781"/>
<rect x="311.88" y="273.88" width="32.42" height="3.47" fill="#882781"/>
<rect x="87.00" y="277.05" width="32.42" height="3.47" fill="#f7705c"/>
<rect x="119.12" y="277.05" width="32.42" height="3.47" fill="#fde7a9"/>
<rect x="151.25" y="277.05" width="32.42" height="3.47" fill="#8c2981"/>
<rect x="183.38" y="277.05" width="32.42" height="3.47" fill="#8c2981"/>
<rect x="215.50" y="277.05" width="32.42" height="3.47" fill="#882781"/>
<rect x="247.62" y="277.05" width="32.42" height="3.47" fill="#882781"/>
<rect x="279.75" y="277.05" width="32.42" height="3.47" fill="#882781"/>
<rect x="311.88" y="277.05" width="32.42" height="3.47" fill="#882781"/>
<rect x="87.00" y="280.23" width="32.42" height="3.47" fill="#f7705c"/>
<rect x="119.12" y="280.23" width="32.42" height="3.47" fill="#fde7a9"/>
<rect x="151.25" y="280.23" width="32.42" height="3.47" fill="#8c2981"/>
<rect x="183.38" y="280.23" width="32.42" height="3.47" fill="#8c2981"/>
<rect x="215.50" y="280.23" width="32.42" height="3.47" fill="#882781"/>
<rect x="247.62" y="280.23" width="32.42" height="3.47" fill="#882781"/>
<rect x="279.75" y="280.23" width="32.42" height="3.47" fill="#882781"/>
<rect x="311.88" y="280.23" width="32.42" height="3.47" fill="#882781"/>
<rect x="87.00" y="283.40" width="32.42" height="3.47" fill="#f7705c"/>
<rect x="119.12" y="283.40" width="32.42" height="3.47" fill="#fde7a9"/>
<rect x="151.25" y="283.40" width="32.42" height="3.47" fill="#8c2981"/>
<rect x="183.38" y="283.40" width="32.42" height="3.47" fill="#8c2981"/>
<rect x="215.50" y="283.40" width="32.42" height="3.47" fill="#882781"/>
<rect x="247.62" y="283.40" width="32.42" height="3.47" fill="#882781"/>
<rect x="279.75" y="283.40" width="32.42" height="3.47" fill="#882781"/>
<rect x="311.88" y="283.40" width="32.42" height="3.47" fill="#882781"/>
<rect x="87.00" y="286.57" width="32.42" height="3.47" fill="#f7705c"/>
<rect x="119.12" y="286.57" width="32.42" height="3.47" fill="#fde7a9"/>
<rect x="151.25" y="286.57" width="32.42" height="3.47" fill="#8c2981"/>
<rect x="183.38" y="286.57" width="32.42" height="3.47" fill="#8c2981"/>
<rect x="215.50" y="286.57" width="32.42" height="3.47" fill="#882781"/>
<rect x="247.62" y="286.57" width="32.42" height="3.47" fill="#882781"/>
<rect x="279.75" y="286.57" width="32.42" height="3.47" fill="#882781"/>
<rect x="311.88" y="286.57" width="32.42" height="3.47" fill="#882781"/>
<rect x="87.00" y="289.75" width="32.42" height="3.47" fill="#f7705c"/>
<rect x="119.12" y="289.75" width="32.42" height="3.47" fill="#fdda9c"/>
<rect x="151.25" y="289.75" width="32.42" height="3.47" fill="#8c2981"/>
<rect x="183.38" y="289.75" width="32.42" height="3.47" fill="#8c2981"/>
<rect x="215.50" y="289.75" width="32.42" height="3.47" fill="#8c2981"/>
<rect x="247.62" y="289.75" width="32.42" height="3.47" fill="#8c2981"/>
<rect x="279.75" y="289.75" width="32.42" height="3.47" fill="#8c2981"/>
<rect x="311.88" y="289.75" width="32.42" height="3.47" fill="#8c2981"/>
<rect x="87.00" y="292.93" width="32.42" height="3.47" fill="#f7705c"/>
<rect x="119.12" y="292.93" width="32.42" height="3.47" fill="#fdda9c"/>
<rect x="151.25" y="292.93" width="32.42" height="3.47" fill="#8c2981"/>
<rect x="183.38" y="292.93" width="32.42" height="3.47" fill="#8c2981"/>
<rect x="215.50" y="292.93" width="32.42" height="3.47" fill="#8c2981"/>
<rect x="247.62" y="292.93" width="32.42" height="3.47" fill="#8c2981"/>
<rect x="279.75" y="292.93" width="32.42" height="3.47" fill="#8c2981"/>
<rect x="311.88" y="292.93" width="32.42" height="3.47" fill="#8c2981"/>
<rect x="87.00" y="296.10" width="32.42" height="3.47" fill="#f7705c"/>
<rect x="119.12" y="296.10" width="32.42" height="3.47" fill="#fdda9c"/>
<rect x="151.25" y="296.10" width="32.42" height="3.47" fill="#a1307e"/>
<rect x="183.38" y="296.10" width="32.42" height="3.47" fill="#a1307e"/>
<rect x="215.50" y="296.10" width="32.42" height="3.47" fill="#8c2981"/>
<rect x="247.62" y="296.10" width="32.42" height="3.47" fill="#8c2981"/>
<rect x="279.75" y="296.10" width="32.42" height="3.47" fill="#8c2981"/>
<rect x="311.88" y="296.10" width="32.42" height="3.47" fill="#8c2981"/>
<rect x="87.00" y="299.27" width="32.42" height="3.47" fill="#f7705c"/>
<rect x="119.12" y="299.27" width="32.42" height="3.47" fill="#fdda9c"/>
<rect x="151.25" y="299.27" width="32.42" height="3.47" fill="#a1307e"/>
<rect x="183.38" y="299.27" width="32.42" height="3.47" fill="#8c2981"/>
<rect x="215.50" y="299.27" width="32.42" height="3.47" fill="#782281"/>
<rect x="247.62" y="299.27" width="32.42" height="3.47" fill="#782281"/>
<rect x="279.75" y="299.27" width="32.42" height="3.47" fill="#782281"/>
<rect x="311.88" y="299.27" width="32.42" height="3.47" fill="#782281"/>
<rect x="87.00" y="302.45" width="32.42" height="3.47" fill="#f7705c"/>
<rect x="119.12" y="302.45" width="32.42" height="3.47" fill="#fdda9c"/>
<rect x="151.25" y="302.45" width="32.42" height="3.47" fill="#a1307e"/>
<rect x="183.38" y="302.45" width="32.42" height="3.47" fill="#8c2981"/>
<rect x="215.50" y="302.45" width="32.42" height="3.47" fill="#8c2981"/>
<rect x="247.62" y="302.45" width="32.42" height="3.47" fill="#8c2981"/>
<rect x="279.75" y="302.45" width="32.42" height="3.47" fill="#8c2981"/>
<rect x="311.88" y="302.45" width="32.42" height="3.47" fill="#8c2981"/>
<rect x="87.00" y="305.62" width="32.42" height="3.47" fill="#f7705c"/>
<rect x="119.12" y="305.62" width="32.42" height="3.47" fill="#fdda9c"/>
<rect x="151.25" y="305.62" width="32.42" height="3.47" fill="#8c2981"/>
<rect x="183.38" y="305.62" width="32.42" height="3.47" fill="#8c2981"/>
<rect x="215.50" y="305.62" width="32.42" height="3.47" fill="#8c2981"/>
<rect x="247.62" y="305.62" width="32.42" height="3.47" fill="#8c2981"/>
<rect x="279.75" y="305.62" width="32.42" height="3.47" fill="#8c2981"/>
<rect x="311.88" y="305.62" width="32.42" height="3.47" fill="#8c2981"/>
<rect x="87.00" y="308.80" width="32.42" height="3.47" fill="#feb77e"/>
<rect x="119.12" y="308.80" width="32.42" height="3.47" fill="#fe9f6d"/>
<rect x="151.25" y="308.80" width="32.42" height="3.47" fill="#8c2981"/>
<rect x="183.38" y="308.80" width="32.42" height="3.47" fill="#a1307e"/>
<rect x="215.50" y="308.80" width="32.42" height="3.47" fill="#8c2981"/>
<rect x="247.62" y="308.80" width="32.42" height="3.47" fill="#782281"/>
<rect x="279.75" y="308.80" width="32.42" height="3.47" fill="#782281"/>
<rect x="311.88" y="308.80" width="32.42" height="3.47" fill="#8c2981"/>
<rect x="87.00" y="311.98" width="32.42" height="3.47" fill="#feb77e"/>
<rect x="119.12" y="311.98" width="32.42" height="3.47" fill="#fe9f6d"/>
<rect x="151.25" y="311.98" width="32.42" height="3.47" fill="#8c2981"/>
<rect x="183.38" y="311.98" width="32.42" height="3.47" fill="#8c2981"/>
<rect x="215.50" y="311.98" width="32.42" height="3.47" fill="#8c2981"/>
<rect x="247.62" y="311.98" width="32.42" height="3.47" fill="#8c2981"/>
<rect x="279.75" y="311.98" width="32.42" height="3.47" fill="#8c2981"/>
<rect x="311.88" y="311.98" width="32.42" height="3.47" fill="#8c2981"/>
<rect x="87.00" y="315.15" width="32.42" height="3.47" fill="#feb77e"/>
<rect x="119.12" y="315.15" width="32.42" height="3.47" fill="#fe9f6d"/>
<rect x="151.25" y="315.15" width="32.42" height="3.47" fill="#8c2981"/>
<rect x="183.38" y="315.15" width="32.42" height="3.47" fill="#8c2981"/>
<rect x="215.50" y="315.15" width="32.42" height="3.47" fill="#8c2981"/>
<rect x="247.62" y="315.15" width="32.42" height="3.47" fill="#8c2981"/>
<rect x="279.75" y="315.15" width="32.42" height="3.47" fill="#8c2981"/>
<rect x="311.88" y="315.15" width="32.42" height="3.47" fill="#782281"/>
<rect x="87.00" y="318.32" width="32.42" height="3.47" fill="#fe9f6d"/>
<rect x="119.12" y="318.32" width="32.42" height="3.47" fill="#feb77e"/>
<rect x="151.25" y="318.32" width="32.42" height="3.47" fill="#8c2981"/>
<rect x="183.38" y="318.32" width="32.42" height="3.47" fill="#8c2981"/>
<rect x="215.50" y="318.32" width="32.42" height="3.47" fill="#8c2981"/>
<rect x="247.62" y="318.32" width="32.42" height="3.47" fill="#8c2981"/>
<rect x="279.75" y="318.32" width="32.42" height="3.47" fill="#8c2981"/>
<rect x="311.88" y="318.32" width="32.42" height="3.47" fill="#8c2981"/>
<rect x="87.00" y="321.50" width="32.42" height="3.47" fill="#feb77e"/>
<rect x="119.12" y="321.50" width="32.42" height="3.47" fill="#feb77e"/>
<rect x="151.25" y="321.50" width="32.42" height="3.47" fill="#8c2981"/>
<rect x="183.38" y="321.50" width="32.42" height="3.47" fill="#8c2981"/>
<rect x="215.50" y="321.50" width="32.42" height="3.47" fill="#8c2981"/>
<rect x="247.62" y="321.50" width="32.42" height="3.47" fill="#8c2981"/>
<rect x="279.75" y="321.50" width="32.42" height="3.47" fill="#8c2981"/>
<rect x="311.88" y="321.50" width="32.42" height="3.47" fill="#8c2981"/>
<rect x="87.00" y="324.68" width="32.42" height="3.47" fill="#feb77e"/>
<rect x="119.12" y="324.68" width="32.42" height="3.47" fill="#fe9f6d"/>
<rect x="151.25" y="324.68" width="32.42" height="3.47" fill="#8c2981"/>
<rect x="183.38" y="324.68" width="32.42" height="3.47" fill="#8c2981"/>
<rect x="215.50" y="324.68" width="32.42" height="3.47" fill="#8c2981"/>
<rect x="247.62" y="324.68" width="32.42" height="3.47" fill="#8c2981"/>
<rect x="279.75" y="324.68" width="32.42" height="3.47" fill="#8c2981"/>
<rect x="311.88" y="324.68" width="32.42" height="3.47" fill="#8c2981"/>
<rect x="87.00" y="327.85" width="32.42" height="3.47" fill="#fc8961"/>
<rect x="119.12" y="327.85" width="32.42" height="3.47" fill="#feb77e"/>
<rect x="151.25" y="327.85" width="32.42" height="3.47" fill="#b73779"/>
<rect x="183.38" y="327.85" width="32.42" height="3.47" fill="#782281"/>
<rect x="215.50" y="327.85" width="32.42" height="3.47" fill="#8c2981"/>
<rect x="247.62" y="327.85" width="32.42" height="3.47" fill="#8c2981"/>
<rect x="279.75" y="327.85" width="32.42" height="3.47" fill="#8c2981"/>
<rect x="311.88" y="327.85" width="32.42" height="3.47" fill="#8c2981"/>
<rect x="87.00" y="331.02" width="32.42" height="3.47" fill="#feb77e"/>
<rect x="119.12" y="331.02" width="32.42" height="3.47" fill="#fe9f6d"/>
<rect x="151.25" y="331.02" width="32.42" height="3.47" fill="#b73779"/>
<rect x="183.38" y="331.02" width="32.42" height="3.47" fill="#782281"/>
<rect x="215.50" y="331.02" width="32.42" height="3.47" fill="#8c2981"/>
<rect x="247.62" y="331.02" width="32.42" height="3.47" fill="#8c2981"/>
<rect x="279.75" y="331.02" width="32.42" height="3.47" fill="#8c2981"/>
<rect x="311.88" y="331.02" width="32.42" height="3.47" fill="#8c2981"/>
<rect x="87.00" y="334.20" width="32.42" height="3.47" fill="#fe9f6d"/>
<rect x="119.12" y="334.20" width="32.42" height="3.47" fill="#fe9f6d"/>
<rect x="151.25" y="334.20" width="32.42" height="3.47" fill="#ca3e72"/>
<rect x="183.38" y="334.20" width="32.42" height="3.47" fill="#782281"/>
<rect x="215.50" y="334.20" width="32.42" height="3.47" fill="#8c2981"/>
<rect x="247.62" y="334.20" width="32.42" height="3.47" fill="#8c2981"/>
<rect x="279.75" y="334.20" width="32.42" height="3.47" fill="#8c2981"/>
<rect x="311.88" y="334.20" width="32.42" height="3.47" fill="#8c2981"/>
<rect x="87.00" y="337.38" width="32.42" height="3.47" fill="#fe9f6d"/>
<rect x="119.12" y="337.38" width="32.42" height="3.47" fill="#fe9f6d"/>
<rect x="151.25" y="337.38" width="32.42" height="3.47" fill="#ca3e72"/>
<rect x="183.38" y="337.38" width="32.42" height="3.47" fill="#a1307e"/>
<rect x="215.50" y="337.38" width="32.42" height="3.47" fill="#782281"/>
<rect x="247.62" y="337.38" width="32.42" height="3.47" fill="#8c2981"/>
<rect x="279.75" y="337.38" width="32.42" height="3.47" fill="#782281"/>
<rect x="311.88" y="337.38" width="32.42" height="3.47" fill="#782281"/>
<rect x="87.00" y="340.55" width="32.42" height="3.47" fill="#fe9f6d"/>
<rect x="119.12" y="340.55" width="32.42" height="3.47" fill="#fc8961"/>
<rect x="151.25" y="340.55" width="32.42" height="3.47" fill="#ca3e72"/>
<rect x="183.38" y="340.55" width="32.42" height="3.47" fill="#a1307e"/>
<rect x="215.50" y="340.55" width="32.42" height="3.47" fill="#782281"/>
<rect x="247.62" y="340.55" width="32.42" height="3.47" fill="#782281"/>
<rect x="279.75" y="340.55" width="32.42" height="3.47" fill="#782281"/>
<rect x="311.88" y="340.55" width="32.42" height="3.47" fill="#782281"/>
<rect x="87.00" y="343.73" width="32.42" height="3.47" fill="#fe9f6d"/>
<rect x="119.12" y="343.73" width="32.42" height="3.47" fill="#feb77e"/>
<rect x="151.25" y="343.73" width="32.42" height="3.47" fill="#ca3e72"/>
<rect x="183.38" y="343.73" width="32.42" height="3.47" fill="#a1307e"/>
<rect x="215.50" y="343.73" width="32.42" height="3.47" fill="#782281"/>
<rect x="247.62" y="343.73" width="32.42" height="3.47" fill="#782281"/>
<rect x="279.75" y="343.73" width="32.42" height="3.47" fill="#782281"/>
<rect x="311.88" y="343.73" width="32.42" height="3.47" fill="#782281"/>
<rect x="87.00" y="346.90" width="32.42" height="3.47" fill="#de4968"/>
<rect x="119.12" y="346.90" width="32.42" height="3.47" fill="#fcf2b4"/>
<rect x="151.25" y="346.90" width="32.42" height="3.47" fill="#8c2981"/>
<rect x="183.38" y="346.90" width="32.42" height="3.47" fill="#8c2981"/>
<rect x="215.50" y="346.90" width="32.42" height="3.47" fill="#8c2981"/>
<rect x="247.62" y="346.90" width="32.42" height="3.47" fill="#8c2981"/>
<rect x="279.75" y="346.90" width="32.42" height="3.47" fill="#8c2981"/>
<rect x="311.88" y="346.90" width="32.42" height="3.47" fill="#8c2981"/>
<rect x="87.00" y="350.07" width="32.42" height="3.47" fill="#ca3e72"/>
<rect x="119.12" y="350.07" width="32.42" height="3.47" fill="#fcf2b4"/>
<rect x="151.25" y="350.07" width="32.42" height="3.47" fill="#8c2981"/>
<rect x="183.38" y="350.07" width="32.42" height="3.47" fill="#8c2981"/>
<rect x="215.50" y="350.07" width="32.42" height="3.47" fill="#8c2981"/>
<rect x="247.62" y="350.07" width="32.42" height="3.47" fill="#8c2981"/>
<rect x="279.75" y="350.07" width="32.42" height="3.47" fill="#8c2981"/>
<rect x="311.88" y="350.07" width="32.42" height="3.47" fill="#8c2981"/>
<rect x="87.00" y="353.25" width="32.42" height="3.47" fill="#ed5a5f"/>
<rect x="119.12" y="353.25" width="32.42" height="3.47" fill="#fde7a9"/>
<rect x="151.25" y="353.25" width="32.42" height="3.47" fill="#8c2981"/>
<rect x="183.38" y="353.25" width="32.42" height="3.47" fill="#8c2981"/>
<rect x="215.50" y="353.25" width="32.42" height="3.47" fill="#8c2981"/>
<rect x="247.62" y="353.25" width="32.42" height="3.47" fill="#8c2981"/>
<rect x="279.75" y="353.25" width="32.42" height="3.47" fill="#8c2981"/>
<rect x="311.88" y="353.25" width="32.42" height="3.47" fill="#8c2981"/>
<rect x="87.00" y="356.43" width="32.42" height="3.47" fill="#ed5a5f"/>
<rect x="119.12" y="356.43" width="32.42" height="3.47" fill="#fde7a9"/>
<rect x="151.25" y="356.43" width="32.42" height="3.47" fill="#8c2981"/>
<rect x="183.38" y="356.43" width="32.42" height="3.47" fill="#8c2981"/>
<rect x="215.50" y="356.43" width="32.42" height="3.47" fill="#8c2981"/>
<rect x="247.62" y="356.43" width="32.42" height="3.47" fill="#8c2981"/>
<rect x="279.75" y="356.43" width="32.42" height="3.47" fill="#8c2981"/>
<rect x="311.88" y="356.43" width="32.42" height="3.47" fill="#8c2981"/>
<rect x="87.00" y="359.60" width="32.42" height="3.47" fill="#ed5a5f"/>
<rect x="119.12" y="359.60" width="32.42" height="3.47" fill="#fde7a9"/>
<rect x="151.25" y="359.60" width="32.42" height="3.47" fill="#8c2981"/>
<rect x="183.38" y="359.60" width="32.42" height="3.47" fill="#8c2981"/>
<rect x="215.50" y="359.60" width="32.42" height="3.47" fill="#8c2981"/>
<rect x="247.62" y="359.60" width="32.42" height="3.47" fill="#8c2981"/>
<rect x="279.75" y="359.60" width="32.42" height="3.47" fill="#8c2981"/>
<rect x="311.88" y="359.60" width="32.42" height="3.47" fill="#8c2981"/>
<rect x="87.00" y="362.77" width="32.42" height="3.47" fill="#de4968"/>
<rect x="119.12" y="362.77" width="32.42" height="3.47" fill="#fde7a9"/>
<rect x="151.25" y="362.77" width="32.42" height="3.47" fill="#8c2981"/>
<rect x="183.38" y="362.77" width="32.42" height="3.47" fill="#8c2981"/>
<rect x="215.50" y="362.77" width="32.42" height="3.47" fill="#8c2981"/>
<rect x="247.62" y="362.77" width="32.42" height="3.47" fill="#8c2981"/>
<rect x="279.75" y="362.77" width="32.42" height="3.47" fill="#a1307e"/>
<rect x="311.88" y="362.77" width="32.42" height="3.47" fill="#8c2981"/>
<rect x="87.00" y="365.95" width="32.42" height="3.47" fill="#ed5a5f"/>
<rect x="119.12" y="365.95" width="32.42" height="3.47" fill="#fde7a9"/>
<rect x="151.25" y="365.95" width="32.42" height="3.47" fill="#8c2981"/>
<rect x="183.38" y="365.95" width="32.42" height="3.47" fill="#8c2981"/>
<rect x="215.50" y="365.95" width="32.42" height="3.47" fill="#8c2981"/>
<rect x="247.62" y="365.95" width="32.42" height="3.47" fill="#8c2981"/>
<rect x="279.75" y="365.95" width="32.42" height="3.47" fill="#a1307e"/>
<rect x="311.88" y="365.95" width="32.42" height="3.47" fill="#8c2981"/>
<rect x="87.00" y="369.12" width="32.42" height="3.47" fill="#de4968"/>
<rect x="119.12" y="369.12" width="32.42" height="3.47" fill="#fde7a9"/>
<rect x="151.25" y="369.12" width="32.42" height="3.47" fill="#8c2981"/>
<rect x="183.38" y="369.12" width="32.42" height="3.47" fill="#8c2981"/>
<rect x="215.50" y="369.12" width="32.42" height="3.47" fill="#8c2981"/>
<rect x="247.62" y="369.12" width="32.42" height="3.47" fill="#8c2981"/>
<rect x="279.75" y="369.12" width="32.42" height="3.47" fill="#8c2981"/>
<rect x="311.88" y="369.12" width="32.42" height="3.47" fill="#782281"/>
<rect x="87.00" y="372.30" width="32.42" height="3.47" fill="#ed5a5f"/>
<rect x="119.12" y="372.30" width="32.42" height="3.47" fill="#fcf2b4"/>
<rect x="151.25" y="372.30" width="32.42" height="3.47" fill="#a1307e"/>
<rect x="183.38" y="372.30" width="32.42" height="3.47" fill="#8c2981"/>
<rect x="215.50" y="372.30" width="32.42" height="3.47" fill="#8c2981"/>
<rect x="247.62" y="372.30" width="32.42" height="3.47" fill="#8c2981"/>
<rect x="279.75" y="372.30" width="32.42" height="3.47" fill="#8c2981"/>
<rect x="311.88" y="372.30" width="32.42" height="3.47" fill="#8c2981"/>
<rect x="87.00" y="375.48" width="32.42" height="3.47" fill="#ed5a5f"/>
<rect x="119.12" y="375.48" width="32.42" height="3.47" fill="#fde7a9"/>
<rect x="151.25" y="375.48" width="32.42" height="3.47" fill="#a1307e"/>
<rect x="183.38" y="375.48" width="32.42" height="3.47" fill="#8c2981"/>
<rect x="215.50" y="375.48" width="32.42" height="3.47" fill="#8c2981"/>
<rect x="247.62" y="375.48" width="32.42" height="3.47" fill="#8c2981"/>
<rect x="279.75" y="375.48" width="32.42" height="3.47" fill="#8c2981"/>
<rect x="311.88" y="375.48" width="32.42" height="3.47" fill="#8c2981"/>
<rect x="87.00" y="378.65" width="32.42" height="3.47" fill="#ed5a5f"/>
<rect x="119.12" y="378.65" width="32.42" height="3.47" fill="#fde7a9"/>
<rect x="151.25" y="378.65" width="32.42" height="3.47" fill="#b73779"/>
<rect x="183.38" y="378.65" width="32.42" height="3.47" fill="#782281"/>
<rect x="215.50" y="378.65" width="32.42" height="3.47" fill="#8c2981"/>
<rect x="247.62" y="378.65" width="32.42" height="3.47" fill="#8c2981"/>
<rect x="279.75" y="378.65" width="32.42" height="3.47" fill="#8c2981"/>
<rect x="311.88" y="378.65" width="32.42" height="3.47" fill="#8c2981"/>
<rect x="87.00" y="381.83" width="32.42" height="3.47" fill="#ed5a5f"/>
<rect x="119.12" y="381.83" width="32.42" height="3.47" fill="#fde7a9"/>
<rect x="151.25" y="381.83" width="32.42" height="3.47" fill="#b73779"/>
<rect x="183.38" y="381.83" width="32.42" height="3.47" fill="#782281"/>
<rect x="215.50" y="381.83" width="32.42" height="3.47" fill="#8c2981"/>
<rect x="247.62" y="381.83" width="32.42" height="3.47" fill="#8c2981"/>
<rect x="279.75" y="381.83" width="32.42" height="3.47" fill="#782281"/>
<rect x="311.88" y="381.83" width="32.42" height="3.47" fill="#8c2981"/>
<rect x="87.00" y="385.00" width="32.42" height="3.47" fill="#f7705c"/>
<rect x="119.12" y="385.00" width="32.42" height="3.47" fill="#fde7a9"/>
<rect x="151.25" y="385.00" width="32.42" height="3.47" fill="#8c2981"/>
<rect x="183.38" y="385.00" width="32.42" height="3.47" fill="#a1307e"/>
<rect x="215.50" y="385.00" width="32.42" height="3.47" fill="#641a80"/>
<rect x="247.62" y="385.00" width="32.42" height="3.47" fill="#8c2981"/>
<rect x="279.75" y="385.00" width="32.42" height="3.47" fill="#8c2981"/>
<rect x="311.88" y="385.00" width="32.42" height="3.47" fill="#782281"/>
<rect x="87.00" y="388.18" width="32.42" height="3.47" fill="#f7705c"/>
<rect x="119.12" y="388.18" width="32.42" height="3.47" fill="#fde7a9"/>
<rect x="151.25" y="388.18" width="32.42" height="3.47" fill="#a1307e"/>
<rect x="183.38" y="388.18" width="32.42" height="3.47" fill="#a1307e"/>
<rect x="215.50" y="388.18" width="32.42" height="3.47" fill="#8c2981"/>
<rect x="247.62" y="388.18" width="32.42" height="3.47" fill="#8c2981"/>
<rect x="279.75" y="388.18" width="32.42" height="3.47" fill="#8c2981"/>
<rect x="311.88" y="388.18" width="32.42" height="3.47" fill="#8c2981"/>
<rect x="87.00" y="391.35" width="32.42" height="3.47" fill="#8c2981"/>
<rect x="119.12" y="391.35" width="32.42" height="3.47" fill="#fcfdbf"/>
<rect x="151.25" y="391.35" width="32.42" height="3.47" fill="#8c2981"/>
<rect x="183.38" y="391.35" width="32.42" height="3.47" fill="#a1307e"/>
<rect x="215.50" y="391.35" width="32.42" height="3.47" fill="#a1307e"/>
<rect x="247.62" y="391.35" width="32.42" height="3.47" fill="#8c2981"/>
<rect x="279.75" y="391.35" width="32.42" height="3.47" fill="#8c2981"/>
<rect x="311.88" y="391.35" width="32.42" height="3.47" fill="#8c2981"/>
<rect x="87.00" y="394.52" width="32.42" height="3.47" fill="#8c2981"/>
<rect x="119.12" y="394.52" width="32.42" height="3.47" fill="#fcfdbf"/>
<rect x="151.25" y="394.52" width="32.42" height="3.47" fill="#8c2981"/>
<rect x="183.38" y="394.52" width="32.42" height="3.47" fill="#a1307e"/>
<rect x="215.50" y="394.52" width="32.42" height="3.47" fill="#641a80"/>
<rect x="247.62" y="394.52" width="32.42" height="3.47" fill="#8c2981"/>
<rect x="279.75" y="394.52" width="32.42" height="3.47" fill="#641a80"/>
<rect x="311.88" y="394.52" width="32.42" height="3.47" fill="#8c2981"/>
<rect x="87.00" y="397.70" width="32.42" height="3.47" fill="#ca3e72"/>
<rect x="119.12" y="397.70" width="32.42" height="3.47" fill="#fcf2b4"/>
<rect x="151.25" y="397.70" width="32.42" height="3.47" fill="#8c2981"/>
<rect x="183.38" y="397.70" width="32.42" height="3.47" fill="#8c2981"/>
<rect x="215.50" y="397.70" width="32.42" height="3.47" fill="#8c2981"/>
<rect x="247.62" y="397.70" width="32.42" height="3.47" fill="#8c2981"/>
<rect x="279.75" y="397.70" width="32.42" height="3.47" fill="#8c2981"/>
<rect x="311.88" y="397.70" width="32.42" height="3.47" fill="#ca3e72"/>
<rect x="87.00" y="400.88" width="32.42" height="3.47" fill="#ca3e72"/>
<rect x="119.12" y="400.88" width="32.42" height="3.47" fill="#fcf2b4"/>
<rect x="151.25" y="400.88" width="32.42" height="3.47" fill="#8c2981"/>
<rect x="183.38" y="400.88" width="32.42" height="3.47" fill="#8c2981"/>
<rect x="215.50" y="400.88" width="32.42" height="3.47" fill="#8c2981"/>
<rect x="247.62" y="400.88" width="32.42" height="3.47" fill="#8c2981"/>
<rect x="279.75" y="400.88" width="32.42" height="3.47" fill="#782281"/>
<rect x="311.88" y="400.88" width="32.42" height="3.47" fill="#ca3e72"/>
<rect x="87.00" y="404.05" width="32.42" height="3.47" fill="#f7705c"/>
<rect x="119.12" y="404.05" width="32.42" height="3.47" fill="#fde7a9"/>
<rect x="151.25" y="404.05" width="32.42" height="3.47" fill="#b73779"/>
<rect x="183.38" y="404.05" width="32.42" height="3.47" fill="#8c2981"/>
<rect x="215.50" y="404.05" width="32.42" height="3.47" fill="#8c2981"/>
<rect x="247.62" y="404.05" width="32.42" height="3.47" fill="#8c2981"/>
<rect x="279.75" y="404.05" width="32.42" height="3.47" fill="#8c2981"/>
<rect x="311.88" y="404.05" width="32.42" height="3.47" fill="#8c2981"/>
<rect x="87.00" y="407.23" width="32.42" height="3.47" fill="#f7705c"/>
<rect x="119.12" y="407.23" width="32.42" height="3.47" fill="#fde7a9"/>
<rect x="151.25" y="407.23" width="32.42" height="3.47" fill="#b73779"/>
<rect x="183.38" y="407.23" width="32.42" height="3.47" fill="#8c2981"/>
<rect x="215.50" y="407.23" width="32.42" height="3.47" fill="#8c2981"/>
<rect x="247.62" y="407.23" width="32.42" height="3.47" fill="#8c2981"/>
<rect x="279.75" y="407.23" width="32.42" height="3.47" fill="#8c2981"/>
<rect x="311.88" y="407.23" width="32.42" height="3.47" fill="#8c2981"/>
<rect x="87.00" y="410.40" width="32.42" height="3.47" fill="#ed5a5f"/>
<rect x="119.12" y="410.40" width="32.42" height="3.47" fill="#fde7a9"/>
<rect x="151.25" y="410.40" width="32.42" height="3.47" fill="#b73779"/>
<rect x="183.38" y="410.40" width="32.42" height="3.47" fill="#782281"/>
<rect x="215.50" y="410.40" width="32.42" height="3.47" fill="#8c2981"/>
<rect x="247.62" y="410.40" width="32.42" height="3.47" fill="#8c2981"/>
<rect x="279.75" y="410.40" width="32.42" height="3.47" fill="#8c2981"/>
<rect x="311.88" y="410.40" width="32.42" height="3.47" fill="#8c2981"/>
<rect x="87.00" y="413.57" width="32.42" height="3.47" fill="#f7705c"/>
<rect x="119.12" y="413.57" width="32.42" height="3.47" fill="#fde7a9"/>
<rect x="151.25" y="413.57" width="32.42" height="3.47" fill="#ca3e72"/>
<rect x="183.38" y="413.57" width="32.42" height="3.47" fill="#782281"/>
<rect x="215.50" y="413.57" width="32.42" height="3.47" fill="#8c2981"/>
<rect x="247.62" y="413.57" width="32.42" height="3.47" fill="#8c2981"/>
<rect x="279.75" y="413.57" width="32.42" height="3.47" fill="#8c2981"/>
<rect x="311.88" y="413.57" width="32.42" height="3.47" fill="#8c2981"/>
<rect x="87.00" y="416.75" width="32.42" height="3.47" fill="#f7705c"/>
<rect x="119.12" y="416.75" width="32.42" height="3.47" fill="#fe9f6d"/>
<rect x="151.25" y="416.75" width="32.42" height="3.47" fill="#ed5a5f"/>
<rect x="183.38" y="416.75" width="32.42" height="3.47" fill="#782281"/>
<rect x="215.50" y="416.75" width="32.42" height="3.47" fill="#a1307e"/>
<rect x="247.62" y="416.75" width="32.42" height="3.47" fill="#51127c"/>
<rect x="279.75" y="416.75" width="32.42" height="3.47" fill="#8c2981"/>
<rect x="311.88" y="416.75" width="32.42" height="3.47" fill="#641a80"/>
<rect x="87.00" y="419.93" width="32.42" height="3.47" fill="#f7705c"/>
<rect x="119.12" y="419.93" width="32.42" height="3.47" fill="#fde7a9"/>
<rect x="151.25" y="419.93" width="32.42" height="3.47" fill="#ed5a5f"/>
<rect x="183.38" y="419.93" width="32.42" height="3.47" fill="#782281"/>
<rect x="215.50" y="419.93" width="32.42" height="3.47" fill="#8c2981"/>
<rect x="247.62" y="419.93" width="32.42" height="3.47" fill="#8c2981"/>
<rect x="279.75" y="419.93" width="32.42" height="3.47" fill="#8c2981"/>
<rect x="311.88" y="419.93" width="32.42" height="3.47" fill="#8c2981"/>
<rect x="87.00" y="423.10" width="32.42" height="3.47" fill="#f7705c"/>
<rect x="119.12" y="423.10" width="32.42" height="3.47" fill="#fde7a9"/>
<rect x="151.25" y="423.10" width="32.42" height="3.47" fill="#de4968"/>
<rect x="183.38" y="423.10" width="32.42" height="3.47" fill="#641a80"/>
<rect x="215.50" y="423.10" width="32.42" height="3.47" fill="#782281"/>
<rect x="247.62" y="423.10" width="32.42" height="3.47" fill="#8c2981"/>
<rect x="279.75" y="423.10" width="32.42" height="3.47" fill="#782281"/>
<rect x="311.88" y="423.10" width="32.42" height="3.47" fill="#782281"/>
<rect x="87.00" y="426.27" width="32.42" height="3.47" fill="#ed5a5f"/>
<rect x="119.12" y="426.27" width="32.42" height="3.47" fill="#fde7a9"/>
<rect x="151.25" y="426.27" width="32.42" height="3.47" fill="#de4968"/>
<rect x="183.38" y="426.27" width="32.42" height="3.47" fill="#b73779"/>
<rect x="215.50" y="426.27" width="32.42" height="3.47" fill="#641a80"/>
<rect x="247.62" y="426.27" width="32.42" height="3.47" fill="#641a80"/>
<rect x="279.75" y="426.27" width="32.42" height="3.47" fill="#641a80"/>
<rect x="311.88" y="426.27" width="32.42" height="3.47" fill="#b73779"/>
<rect x="87.00" y="429.45" width="32.42" height="3.47" fill="#de4968"/>
<rect x="119.12" y="429.45" width="32.42" height="3.47" fill="#fde7a9"/>
<rect x="151.25" y="429.45" width="32.42" height="3.47" fill="#b73779"/>
<rect x="183.38" y="429.45" width="32.42" height="3.47" fill="#b73779"/>
<rect x="215.50" y="429.45" width="32.42" height="3.47" fill="#641a80"/>
<rect x="247.62" y="429.45" width="32.42" height="3.47" fill="#782281"/>
<rect x="279.75" y="429.45" width="32.42" height="3.47" fill="#8c2981"/>
<rect x="311.88" y="429.45" width="32.42" height="3.47" fill="#782281"/>
<rect x="87.00" y="432.62" width="32.42" height="3.47" fill="#ed5a5f"/>
<rect x="119.12" y="432.62" width="32.42" height="3.47" fill="#feb77e"/>
<rect x="151.25" y="432.62" width="32.42" height="3.47" fill="#de4968"/>
<rect x="183.38" y="432.62" width="32.42" height="3.47" fill="#de4968"/>
<rect x="215.50" y="432.62" width="32.42" height="3.47" fill="#641a80"/>
<rect x="247.62" y="432.62" width="32.42" height="3.47" fill="#782281"/>
<rect x="279.75" y="432.62" width="32.42" height="3.47" fill="#782281"/>
<rect x="311.88" y="432.62" width="32.42" height="3.47" fill="#782281"/>
<rect x="87.00" y="435.80" width="32.42" height="3.47" fill="#8c2981"/>
<rect x="119.12" y="435.80" width="32.42" height="3.47" fill="#fcf2b4"/>
<rect x="151.25" y="435.80" width="32.42" height="3.47" fill="#ed5a5f"/>
<rect x="183.38" y="435.80" width="32.42" height="3.47" fill="#8c2981"/>
<rect x="215.50" y="435.80" width="32.42" height="3.47" fill="#8c2981"/>
<rect x="247.62" y="435.80" width="32.42" height="3.47" fill="#b73779"/>
<rect x="279.75" y="435.80" width="32.42" height="3.47" fill="#782281"/>
<rect x="311.88" y="435.80" width="32.42" height="3.47" fill="#641a80"/>
<rect x="87.00" y="438.98" width="32.42" height="3.47" fill="#ca3e72"/>
<rect x="119.12" y="438.98" width="32.42" height="3.47" fill="#fde7a9"/>
<rect x="151.25" y="438.98" width="32.42" height="3.47" fill="#f7705c"/>
<rect x="183.38" y="438.98" width="32.42" height="3.47" fill="#782281"/>
<rect x="215.50" y="438.98" width="32.42" height="3.47" fill="#8c2981"/>
<rect x="247.62" y="438.98" width="32.42" height="3.47" fill="#8c2981"/>
<rect x="279.75" y="438.98" width="32.42" height="3.47" fill="#8c2981"/>
<rect x="311.88" y="438.98" width="32.42" height="3.47" fill="#8c2981"/>
<rect x="87.00" y="442.15" width="32.42" height="3.47" fill="#ca3e72"/>
<rect x="119.12" y="442.15" width="32.42" height="3.47" fill="#fde7a9"/>
<rect x="151.25" y="442.15" width="32.42" height="3.47" fill="#ed5a5f"/>
<rect x="183.38" y="442.15" width="32.42" height="3.47" fill="#782281"/>
<rect x="215.50" y="442.15" width="32.42" height="3.47" fill="#8c2981"/>
<rect x="247.62" y="442.15" width="32.42" height="3.47" fill="#8c2981"/>
<rect x="279.75" y="442.15" width="32.42" height="3.47" fill="#8c2981"/>
<rect x="311.88" y="442.15" width="32.42" height="3.47" fill="#8c2981"/>
<rect x="87.00" y="445.32" width="32.42" height="3.47" fill="#a1307e"/>
<rect x="119.12" y="445.32" width="32.42" height="3.47" fill="#fcf2b4"/>
<rect x="151.25" y="445.32" width="32.42" height="3.47" fill="#ca3e72"/>
<rect x="183.38" y="445.32" width="32.42" height="3.47" fill="#a1307e"/>
<rect x="215.50" y="445.32" width="32.42" height="3.47" fill="#782281"/>
<rect x="247.62" y="445.32" width="32.42" height="3.47" fill="#782281"/>
<rect x="279.75" y="445.32" width="32.42" height="3.47" fill="#782281"/>
<rect x="311.88" y="445.32" width="32.42" height="3.47" fill="#782281"/>
<rect x="87.00" y="448.50" width="32.42" height="3.47" fill="#a1307e"/>
<rect x="119.12" y="448.50" width="32.42" height="3.47" fill="#fde7a9"/>
<rect x="151.25" y="448.50" width="32.42" height="3.47" fill="#de4968"/>
<rect x="183.38" y="448.50" width="32.42" height="3.47" fill="#b73779"/>
<rect x="215.50" y="448.50" width="32.42" height="3.47" fill="#782281"/>
<rect x="247.62" y="448.50" width="32.42" height="3.47" fill="#782281"/>
<rect x="279.75" y="448.50" width="32.42" height="3.47" fill="#782281"/>
<rect x="311.88" y="448.50" width="32.42" height="3.47" fill="#782281"/>
<rect x="87.00" y="451.68" width="32.42" height="3.47" fill="#ca3e72"/>
<rect x="119.12" y="451.68" width="32.42" height="3.47" fill="#fde7a9"/>
<rect x="151.25" y="451.68" width="32.42" height="3.47" fill="#ca3e72"/>
<rect x="183.38" y="451.68" width="32.42" height="3.47" fill="#b73779"/>
<rect x="215.50" y="451.68" width="32.42" height="3.47" fill="#782281"/>
<rect x="247.62" y="451.68" width="32.42" height="3.47" fill="#782281"/>
<rect x="279.75" y="451.68" width="32.42" height="3.47" fill="#782281"/>
<rect x="311.88" y="451.68" width="32.42" height="3.47" fill="#782281"/>
<rect x="87.00" y="454.85" width="32.42" height="3.47" fill="#de4968"/>
<rect x="119.12" y="454.85" width="32.42" height="3.47" fill="#fde7a9"/>
<rect x="151.25" y="454.85" width="32.42" height="3.47" fill="#ed5a5f"/>
<rect x="183.38" y="454.85" width="32.42" height="3.47" fill="#a1307e"/>
<rect x="215.50" y="454.85" width="32.42" height="3.47" fill="#8c2981"/>
<rect x="247.62" y="454.85" width="32.42" height="3.47" fill="#8c2981"/>
<rect x="279.75" y="454.85" width="32.42" height="3.47" fill="#8c2981"/>
<rect x="311.88" y="454.85" width="32.42" height="3.47" fill="#8c2981"/>
<rect x="87.00" y="458.02" width="32.42" height="3.47" fill="#fde0a1"/>
<rect x="119.12" y="458.02" width="32.42" height="3.47" fill="#fc8961"/>
<rect x="151.25" y="458.02" width="32.42" height="3.47" fill="#8c2981"/>
<rect x="183.38" y="458.02" width="32.42" height="3.47" fill="#8c2981"/>
<rect x="215.50" y="458.02" width="32.42" height="3.47" fill="#8c2981"/>
<rect x="247.62" y="458.02" width="32.42" height="3.47" fill="#8c2981"/>
<rect x="279.75" y="458.02" width="32.42" height="3.47" fill="#8c2981"/>
<rect x="311.88" y="458.02" width="32.42" height="3.47" fill="#8c2981"/>
<rect x="87.00" y="461.20" width="32.42" height="3.47" fill="#fde0a1"/>
<rect x="119.12" y="461.20" width="32.42" height="3.47" fill="#fc8961"/>
<rect x="151.25" y="461.20" width="32.42" height="3.47" fill="#8c2981"/>
<rect x="183.38" y="461.20" width="32.42" height="3.47" fill="#8c2981"/>
<rect x="215.50" y="461.20" width="32.42" height="3.47" fill="#8c2981"/>
<rect x="247.62" y="461.20" width="32.42" height="3.47" fill="#8c2981"/>
<rect x="279.75" y="461.20" width="32.42" height="3.47" fill="#8c2981"/>
<rect x="311.88" y="461.20" width="32.42" height="3.47" fill="#8c2981"/>
<rect x="87.00" y="464.38" width="32.42" height="3.47" fill="#fde0a1"/>
<rect x="119.12" y="464.38" width="32.42" height="3.47" fill="#fc8961"/>
<rect x="151.25" y="464.38" width="32.42" height="3.47" fill="#8c2981"/>
<rect x="183.38" y="464.38" width="32.42" height="3.47" fill="#8c2981"/>
<rect x="215.50" y="464.38" width="32.42" height="3.47" fill="#8c2981"/>
<rect x="247.62" y="464.38" width="32.42" height="3.47" fill="#8c2981"/>
<rect x="279.75" y="464.38" width="32.42" height="3.47" fill="#8c2981"/>
<rect x="311.88" y="464.38" width="32.42" height="3.47" fill="#8c2981"/>
<rect x="87.00" y="467.55" width="32.42" height="3.47" fill="#fde7a9"/>
<rect x="119.12" y="467.55" width="32.42" height="3.47" fill="#f7705c"/>
<rect x="151.25" y="467.55" width="32.42" height="3.47" fill="#8c2981"/>
<rect x="183.38" y="467.55" width="32.42" height="3.47" fill="#8c2981"/>
<rect x="215.50" y="467.55" width="32.42" height="3.47" fill="#8c2981"/>
<rect x="247.62" y="467.55" width="32.42" height="3.47" fill="#8c2981"/>
<rect x="279.75" y="467.55" width="32.42" height="3.47" fill="#8c2981"/>
<rect x="311.88" y="467.55" width="32.42" height="3.47" fill="#8c2981"/>
<rect x="87.00" y="470.73" width="32.42" height="3.47" fill="#fde7a9"/>
<rect x="119.12" y="470.73" width="32.42" height="3.47" fill="#f7705c"/>
<rect x="151.25" y="470.73" width="32.42" height="3.47" fill="#782281"/>
<rect x="183.38" y="470.73" width="32.42" height="3.47" fill="#8c2981"/>
<rect x="215.50" y="470.73" width="32.42" height="3.47" fill="#782281"/>
<rect x="247.62" y="470.73" width="32.42" height="3.47" fill="#b73779"/>
<rect x="279.75" y="470.73" width="32.42" height="3.47" fill="#8c2981"/>
<rect x="311.88" y="470.73" width="32.42" height="3.47" fill="#b73779"/>
<rect x="87.00" y="473.90" width="32.42" height="3.47" fill="#fde7a9"/>
<rect x="119.12" y="473.90" width="32.42" height="3.47" fill="#ed5a5f"/>
<rect x="151.25" y="473.90" width="32.42" height="3.47" fill="#782281"/>
<rect x="183.38" y="473.90" width="32.42" height="3.47" fill="#8c2981"/>
<rect x="215.50" y="473.90" width="32.42" height="3.47" fill="#8c2981"/>
<rect x="247.62" y="473.90" width="32.42" height="3.47" fill="#8c2981"/>
<rect x="279.75" y="473.90" width="32.42" height="3.47" fill="#8c2981"/>
<rect x="311.88" y="473.90" width="32.42" height="3.47" fill="#8c2981"/>
<rect x="87.00" y="477.07" width="32.42" height="3.47" fill="#fde7a9"/>
<rect x="119.12" y="477.07" width="32.42" height="3.47" fill="#ed5a5f"/>
<rect x="151.25" y="477.07" width="32.42" height="3.47" fill="#782281"/>
<rect x="183.38" y="477.07" width="32.42" height="3.47" fill="#8c2981"/>
<rect x="215.50" y="477.07" width="32.42" height="3.47" fill="#8c2981"/>
<rect x="247.62" y="477.07" width="32.42" height="3.47" fill="#8c2981"/>
<rect x="279.75" y="477.07" width="32.42" height="3.47" fill="#8c2981"/>
<rect x="311.88" y="477.07" width="32.42" height="3.47" fill="#8c2981"/>
<rect x="87.00" y="480.25" width="32.42" height="3.47" fill="#fcfdbf"/>
<rect x="119.12" y="480.25" width="32.42" height="3.47" fill="#8c2981"/>
<rect x="151.25" y="480.25" width="32.42" height="3.47" fill="#ca3e72"/>
<rect x="183.38" y="480.25" width="32.42" height="3.47" fill="#a1307e"/>
<rect x="215.50" y="480.25" width="32.42" height="3.47" fill="#a1307e"/>
<rect x="247.62" y="480.25" width="32.42" height="3.47" fill="#a1307e"/>
<rect x="279.75" y="480.25" width="32.42" height="3.47" fill="#a1307e"/>
<rect x="311.88" y="480.25" width="32.42" height="3.47" fill="#a1307e"/>
<rect x="87.00" y="483.43" width="32.42" height="3.47" fill="#fcfdbf"/>
<rect x="119.12" y="483.43" width="32.42" height="3.47" fill="#8c2981"/>
<rect x="151.25" y="483.43" width="32.42" height="3.47" fill="#a1307e"/>
<rect x="183.38" y="483.43" width="32.42" height="3.47" fill="#a1307e"/>
<rect x="215.50" y="483.43" width="32.42" height="3.47" fill="#a1307e"/>
<rect x="247.62" y="483.43" width="32.42" height="3.47" fill="#a1307e"/>
<rect x="279.75" y="483.43" width="32.42" height="3.47" fill="#a1307e"/>
<rect x="311.88" y="483.43" width="32.42" height="3.47" fill="#a1307e"/>
<rect x="87.00" y="486.60" width="32.42" height="3.47" fill="#fcfdbf"/>
<rect x="119.12" y="486.60" width="32.42" height="3.47" fill="#8c2981"/>
<rect x="151.25" y="486.60" width="32.42" height="3.47" fill="#a1307e"/>
<rect x="183.38" y="486.60" width="32.42" height="3.47" fill="#a1307e"/>
<rect x="215.50" y="486.60" width="32.42" height="3.47" fill="#a1307e"/>
<rect x="247.62" y="486.60" width="32.42" height="3.47" fill="#a1307e"/>
<rect x="279.75" y="486.60" width="32.42" height="3.47" fill="#a1307e"/>
<rect x="311.88" y="486.60" width="32.42" height="3.47" fill="#a1307e"/>
<rect x="87.00" y="489.77" width="32.42" height="3.47" fill="#fcfdbf"/>
<rect x="119.12" y="489.77" width="32.42" height="3.47" fill="#8c2981"/>
<rect x="151.25" y="489.77" width="32.42" height="3.47" fill="#a1307e"/>
<rect x="183.38" y="489.77" width="32.42" height="3.47" fill="#a1307e"/>
<rect x="215.50" y="489.77" width="32.42" height="3.47" fill="#a1307e"/>
<rect x="247.62" y="489.77" width="32.42" height="3.47" fill="#a1307e"/>
<rect x="279.75" y="489.77" width="32.42" height="3.47" fill="#a1307e"/>
<rect x="311.88" y="489.77" width="32.42" height="3.47" fill="#a1307e"/>
<rect x="87.00" y="492.95" width="32.42" height="3.47" fill="#fde7a9"/>
<rect x="119.12" y="492.95" width="32.42" height="3.47" fill="#de4968"/>
<rect x="151.25" y="492.95" width="32.42" height="3.47" fill="#8c2981"/>
<rect x="183.38" y="492.95" width="32.42" height="3.47" fill="#8c2981"/>
<rect x="215.50" y="492.95" width="32.42" height="3.47" fill="#8c2981"/>
<rect x="247.62" y="492.95" width="32.42" height="3.47" fill="#de4968"/>
<rect x="279.75" y="492.95" width="32.42" height="3.47" fill="#8c2981"/>
<rect x="311.88" y="492.95" width="32.42" height="3.47" fill="#8c2981"/>
<rect x="87.00" y="496.12" width="32.42" height="3.47" fill="#fde7a9"/>
<rect x="119.12" y="496.12" width="32.42" height="3.47" fill="#ed5a5f"/>
<rect x="151.25" y="496.12" width="32.42" height="3.47" fill="#8c2981"/>
<rect x="183.38" y="496.12" width="32.42" height="3.47" fill="#8c2981"/>
<rect x="215.50" y="496.12" width="32.42" height="3.47" fill="#8c2981"/>
<rect x="247.62" y="496.12" width="32.42" height="3.47" fill="#8c2981"/>
<rect x="279.75" y="496.12" width="32.42" height="3.47" fill="#8c2981"/>
<rect x="311.88" y="496.12" width="32.42" height="3.47" fill="#8c2981"/>
<rect x="87.00" y="499.30" width="32.42" height="3.47" fill="#fde7a9"/>
<rect x="119.12" y="499.30" width="32.42" height="3.47" fill="#de4968"/>
<rect x="151.25" y="499.30" width="32.42" height="3.47" fill="#8c2981"/>
<rect x="183.38" y="499.30" width="32.42" height="3.47" fill="#8c2981"/>
<rect x="215.50" y="499.30" width="32.42" height="3.47" fill="#8c2981"/>
<rect x="247.62" y="499.30" width="32.42" height="3.47" fill="#8c2981"/>
<rect x="279.75" y="499.30" width="32.42" height="3.47" fill="#8c2981"/>
<rect x="311.88" y="499.30" width="32.42" height="3.47" fill="#8c2981"/>
<rect x="87.00" y="502.48" width="32.42" height="3.47" fill="#fde7a9"/>
<rect x="119.12" y="502.48" width="32.42" height="3.47" fill="#de4968"/>
<rect x="151.25" y="502.48" width="32.42" height="3.47" fill="#8c2981"/>
<rect x="183.38" y="502.48" width="32.42" height="3.47" fill="#8c2981"/>
<rect x="215.50" y="502.48" width="32.42" height="3.47" fill="#8c2981"/>
<rect x="247.62" y="502.48" width="32.42" height="3.47" fill="#8c2981"/>
<rect x="279.75" y="502.48" width="32.42" height="3.47" fill="#8c2981"/>
<rect x="311.88" y="502.48" width="32.42" height="3.47" fill="#8c2981"/>
<rect x="87.00" y="505.65" width="32.42" height="3.47" fill="#fde7a9"/>
<rect x="119.12" y="505.65" width="32.42" height="3.47" fill="#ca3e72"/>
<rect x="151.25" y="505.65" width="32.42" height="3.47" fill="#a1307e"/>
<rect x="183.38" y="505.65" width="32.42" height="3.47" fill="#8c2981"/>
<rect x="215.50" y="505.65" width="32.42" height="3.47" fill="#8c2981"/>
<rect x="247.62" y="505.65" width="32.42" height="3.47" fill="#8c2981"/>
<rect x="279.75" y="505.65" width="32.42" height="3.47" fill="#8c2981"/>
<rect x="311.88" y="505.65" width="32.42" height="3.47" fill="#8c2981"/>
<rect x="87.00" y="508.82" width="32.42" height="3.47" fill="#fde7a9"/>
<rect x="119.12" y="508.82" width="32.42" height="3.47" fill="#ed5a5f"/>
<rect x="151.25" y="508.82" width="32.42" height="3.47" fill="#de4968"/>
<rect x="183.38" y="508.82" width="32.42" height="3.47" fill="#8c2981"/>
<rect x="215.50" y="508.82" width="32.42" height="3.47" fill="#8c2981"/>
<rect x="247.62" y="508.82" width="32.42" height="3.47" fill="#8c2981"/>
<rect x="279.75" y="508.82" width="32.42" height="3.47" fill="#782281"/>
<rect x="311.88" y="508.82" width="32.42" height="3.47" fill="#641a80"/>
<rect x="87.00" y="512.00" width="32.42" height="3.47" fill="#fecf92"/>
<rect x="119.12" y="512.00" width="32.42" height="3.47" fill="#ed5a5f"/>
<rect x="151.25" y="512.00" width="32.42" height="3.47" fill="#b73779"/>
<rect x="183.38" y="512.00" width="32.42" height="3.47" fill="#8c2981"/>
<rect x="215.50" y="512.00" width="32.42" height="3.47" fill="#782281"/>
<rect x="247.62" y="512.00" width="32.42" height="3.47" fill="#782281"/>
<rect x="279.75" y="512.00" width="32.42" height="3.47" fill="#782281"/>
<rect x="311.88" y="512.00" width="32.42" height="3.47" fill="#782281"/>
<rect x="87.00" y="515.17" width="32.42" height="3.47" fill="#fecf92"/>
<rect x="119.12" y="515.17" width="32.42" height="3.47" fill="#ca3e72"/>
<rect x="151.25" y="515.17" width="32.42" height="3.47" fill="#ca3e72"/>
<rect x="183.38" y="515.17" width="32.42" height="3.47" fill="#8c2981"/>
<rect x="215.50" y="515.17" width="32.42" height="3.47" fill="#782281"/>
<rect x="247.62" y="515.17" width="32.42" height="3.47" fill="#782281"/>
<rect x="279.75" y="515.17" width="32.42" height="3.47" fill="#782281"/>
<rect x="311.88" y="515.17" width="32.42" height="3.47" fill="#782281"/>
<rect x="87.00" y="518.35" width="32.42" height="3.47" fill="#fde7a9"/>
<rect x="119.12" y="518.35" width="32.42" height="3.47" fill="#ca3e72"/>
<rect x="151.25" y="518.35" width="32.42" height="3.47" fill="#b73779"/>
<rect x="183.38" y="518.35" width="32.42" height="3.47" fill="#782281"/>
<rect x="215.50" y="518.35" width="32.42" height="3.47" fill="#8c2981"/>
<rect x="247.62" y="518.35" width="32.42" height="3.47" fill="#8c2981"/>
<rect x="279.75" y="518.35" width="32.42" height="3.47" fill="#8c2981"/>
<rect x="311.88" y="518.35" width="32.42" height="3.47" fill="#8c2981"/>
<rect x="87.00" y="521.52" width="32.42" height="3.47" fill="#fecf92"/>
<rect x="119.12" y="521.52" width="32.42" height="3.47" fill="#ca3e72"/>
<rect x="151.25" y="521.52" width="32.42" height="3.47" fill="#b73779"/>
<rect x="183.38" y="521.52" width="32.42" height="3.47" fill="#de4968"/>
<rect x="215.50" y="521.52" width="32.42" height="3.47" fill="#782281"/>
<rect x="247.62" y="521.52" width="32.42" height="3.47" fill="#782281"/>
<rect x="279.75" y="521.52" width="32.42" height="3.47" fill="#8c2981"/>
<rect x="311.88" y="521.52" width="32.42" height="3.47" fill="#782281"/>
<rect x="87.00" y="524.70" width="32.42" height="3.47" fill="#fde7a9"/>
<rect x="119.12" y="524.70" width="32.42" height="3.47" fill="#8c2981"/>
<rect x="151.25" y="524.70" width="32.42" height="3.47" fill="#ca3e72"/>
<rect x="183.38" y="524.70" width="32.42" height="3.47" fill="#a1307e"/>
<rect x="215.50" y="524.70" width="32.42" height="3.47" fill="#782281"/>
<rect x="247.62" y="524.70" width="32.42" height="3.47" fill="#782281"/>
<rect x="279.75" y="524.70" width="32.42" height="3.47" fill="#782281"/>
<rect x="311.88" y="524.70" width="32.42" height="3.47" fill="#782281"/>
<rect x="87.00" y="527.88" width="32.42" height="3.47" fill="#fde7a9"/>
<rect x="119.12" y="527.88" width="32.42" height="3.47" fill="#b73779"/>
<rect x="151.25" y="527.88" width="32.42" height="3.47" fill="#de4968"/>
<rect x="183.38" y="527.88" width="32.42" height="3.47" fill="#8c2981"/>
<rect x="215.50" y="527.88" width="32.42" height="3.47" fill="#782281"/>
<rect x="247.62" y="527.88" width="32.42" height="3.47" fill="#8c2981"/>
<rect x="279.75" y="527.88" width="32.42" height="3.47" fill="#641a80"/>
<rect x="311.88" y="527.88" width="32.42" height="3.47" fill="#641a80"/>
<rect x="87.00" y="531.05" width="32.42" height="3.47" fill="#fde7a9"/>
<rect x="119.12" y="531.05" width="32.42" height="3.47" fill="#b73779"/>
<rect x="151.25" y="531.05" width="32.42" height="3.47" fill="#ca3e72"/>
<rect x="183.38" y="531.05" width="32.42" height="3.47" fill="#a1307e"/>
<rect x="215.50" y="531.05" width="32.42" height="3.47" fill="#782281"/>
<rect x="247.62" y="531.05" width="32.42" height="3.47" fill="#8c2981"/>
<rect x="279.75" y="531.05" width="32.42" height="3.47" fill="#641a80"/>
<rect x="311.88" y="531.05" width="32.42" height="3.47" fill="#641a80"/>
<rect x="87.00" y="534.23" width="32.42" height="3.47" fill="#ed5a5f"/>
<rect x="119.12" y="534.23" width="32.42" height="3.47" fill="#de4968"/>
<rect x="151.25" y="534.23" width="32.42" height="3.47" fill="#de4968"/>
<rect x="183.38" y="534.23" width="32.42" height="3.47" fill="#a1307e"/>
<rect x="215.50" y="534.23" width="32.42" height="3.47" fill="#ed5a5f"/>
<rect x="247.62" y="534.23" width="32.42" height="3.47" fill="#ed5a5f"/>
<rect x="279.75" y="534.23" width="32.42" height="3.47" fill="#782281"/>
<rect x="311.88" y="534.23" width="32.42" height="3.47" fill="#000004"/>
<rect x="87.00" y="537.40" width="32.42" height="3.47" fill="#f7705c"/>
<rect x="119.12" y="537.40" width="32.42" height="3.47" fill="#ed5a5f"/>
<rect x="151.25" y="537.40" width="32.42" height="3.47" fill="#f7705c"/>
<rect x="183.38" y="537.40" width="32.42" height="3.47" fill="#f7705c"/>
<rect x="215.50" y="537.40" width="32.42" height="3.47" fill="#782281"/>
<rect x="247.62" y="537.40" width="32.42" height="3.47" fill="#782281"/>
<rect x="279.75" y="537.40" width="32.42" height="3.47" fill="#641a80"/>
<rect x="311.88" y="537.40" width="32.42" height="3.47" fill="#641a80"/>
<rect x="87.00" y="540.58" width="32.42" height="3.47" fill="#ca3e72"/>
<rect x="119.12" y="540.58" width="32.42" height="3.47" fill="#fc8961"/>
<rect x="151.25" y="540.58" width="32.42" height="3.47" fill="#f7705c"/>
<rect x="183.38" y="540.58" width="32.42" height="3.47" fill="#f7705c"/>
<rect x="215.50" y="540.58" width="32.42" height="3.47" fill="#641a80"/>
<rect x="247.62" y="540.58" width="32.42" height="3.47" fill="#782281"/>
<rect x="279.75" y="540.58" width="32.42" height="3.47" fill="#641a80"/>
<rect x="311.88" y="540.58" width="32.42" height="3.47" fill="#641a80"/>
<rect x="87.00" y="543.75" width="32.42" height="3.47" fill="#ca3e72"/>
<rect x="119.12" y="543.75" width="32.42" height="3.47" fill="#fe9f6d"/>
<rect x="151.25" y="543.75" width="32.42" height="3.47" fill="#f7705c"/>
<rect x="183.38" y="543.75" width="32.42" height="3.47" fill="#f7705c"/>
<rect x="215.50" y="543.75" width="32.42" height="3.47" fill="#641a80"/>
<rect x="247.62" y="543.75" width="32.42" height="3.47" fill="#782281"/>
<rect x="279.75" y="543.75" width="32.42" height="3.47" fill="#641a80"/>
<rect x="311.88" y="543.75" width="32.42" height="3.47" fill="#641a80"/>
<rect x="87.00" y="546.92" width="32.42" height="3.47" fill="#fc8961"/>
<rect x="119.12" y="546.92" width="32.42" height="3.47" fill="#fe9f6d"/>
<rect x="151.25" y="546.92" width="32.42" height="3.47" fill="#de4968"/>
<rect x="183.38" y="546.92" width="32.42" height="3.47" fill="#ca3e72"/>
<rect x="215.50" y="546.92" width="32.42" height="3.47" fill="#641a80"/>
<rect x="247.62" y="546.92" width="32.42" height="3.47" fill="#782281"/>
<rect x="279.75" y="546.92" width="32.42" height="3.47" fill="#641a80"/>
<rect x="311.88" y="546.92" width="32.42" height="3.47" fill="#641a80"/>
<rect x="87.00" y="550.10" width="32.42" height="3.47" fill="#fc8961"/>
<rect x="119.12" y="550.10" width="32.42" height="3.47" fill="#fe9f6d"/>
<rect x="151.25" y="550.10" width="32.42" height="3.47" fill="#ca3e72"/>
<rect x="183.38" y="550.10" width="32.42" height="3.47" fill="#de4968"/>
<rect x="215.50" y="550.10" width="32.42" height="3.47" fill="#641a80"/>
<rect x="247.62" y="550.10" width="32.42" height="3.47" fill="#782281"/>
<rect x="279.75" y="550.10" width="32.42" height="3.47" fill="#641a80"/>
<rect x="311.88" y="550.10" width="32.42" height="3.47" fill="#641a80"/>
<rect x="87.00" y="553.27" width="32.42" height="3.47" fill="#fe9f6d"/>
<rect x="119.12" y="553.27" width="32.42" height="3.47" fill="#b73779"/>
<rect x="151.25" y="553.27" width="32.42" height="3.47" fill="#fc8961"/>
<rect x="183.38" y="553.27" width="32.42" height="3.47" fill="#de4968"/>
<rect x="215.50" y="553.27" width="32.42" height="3.47" fill="#641a80"/>
<rect x="247.62" y="553.27" width="32.42" height="3.47" fill="#8c2981"/>
<rect x="279.75" y="553.27" width="32.42" height="3.47" fill="#8c2981"/>
<rect x="311.88" y="553.27" width="32.42" height="3.47" fill="#641a80"/>
<rect x="87.00" y="556.45" width="32.42" height="3.47" fill="#feb77e"/>
<rect x="119.12" y="556.45" width="32.42" height="3.47" fill="#ed5a5f"/>
<rect x="151.25" y="556.45" width="32.42" height="3.47" fill="#f7705c"/>
<rect x="183.38" y="556.45" width="32.42" height="3.47" fill="#8c2981"/>
<rect x="215.50" y="556.45" width="32.42" height="3.47" fill="#51127c"/>
<rect x="247.62" y="556.45" width="32.42" height="3.47" fill="#a1307e"/>
<rect x="279.75" y="556.45" width="32.42" height="3.47" fill="#8c2981"/>
<rect x="311.88" y="556.45" width="32.42" height="3.47" fill="#641a80"/>
<rect x="87.00" y="559.62" width="32.42" height="3.47" fill="#fe9f6d"/>
<rect x="119.12" y="559.62" width="32.42" height="3.47" fill="#f7705c"/>
<rect x="151.25" y="559.62" width="32.42" height="3.47" fill="#f7705c"/>
<rect x="183.38" y="559.62" width="32.42" height="3.47" fill="#8c2981"/>
<rect x="215.50" y="559.62" width="32.42" height="3.47" fill="#641a80"/>
<rect x="247.62" y="559.62" width="32.42" height="3.47" fill="#782281"/>
<rect x="279.75" y="559.62" width="32.42" height="3.47" fill="#641a80"/>
<rect x="311.88" y="559.62" width="32.42" height="3.47" fill="#641a80"/>
<rect x="87.00" y="562.80" width="32.42" height="3.47" fill="#fe9f6d"/>
<rect x="119.12" y="562.80" width="32.42" height="3.47" fill="#f7705c"/>
<rect x="151.25" y="562.80" width="32.42" height="3.47" fill="#f7705c"/>
<rect x="183.38" y="562.80" width="32.42" height="3.47" fill="#a1307e"/>
<rect x="215.50" y="562.80" width="32.42" height="3.47" fill="#641a80"/>
<rect x="247.62" y="562.80" width="32.42" height="3.47" fill="#782281"/>
<rect x="279.75" y="562.80" width="32.42" height="3.47" fill="#641a80"/>
<rect x="311.88" y="562.80" width="32.42" height="3.47" fill="#641a80"/>
<path d="M87.0 45.17H344.0 M87.0 48.35H344.0 M87.0 51.52H344.0 M87.0 54.70H344.0 M87.0 57.88H344.0 M87.0 61.05H344.0 M87.0 64.22H344.0 M87.0 67.40H344.0 M87.0 70.58H344.0 M87.0 73.75H344.0 M87.0 76.92H344.0 M87.0 80.10H344.0 M87.0 83.28H344.0 M87.0 86.45H344.0 M87.0 89.62H344.0 M87.0 92.80H344.0 M87.0 95.97H344.0 M87.0 99.15H344.0 M87.0 102.32H344.0 M87.0 105.50H344.0 M87.0 108.67H344.0 M119.12 42.00V111.85 M151.25 42.00V111.85 M183.38 42.00V111.85 M215.50 42.00V111.85 M247.62 42.00V111.85 M279.75 42.00V111.85 M311.88 42.00V111.85 M87.0 120.17H344.0 M87.0 123.35H344.0 M87.0 126.53H344.0 M87.0 129.70H344.0 M87.0 132.88H344.0 M87.0 136.05H344.0 M87.0 139.22H344.0 M87.0 142.40H344.0 M87.0 145.57H344.0 M87.0 148.75H344.0 M87.0 151.93H344.0 M87.0 155.10H344.0 M87.0 158.28H344.0 M87.0 161.45H344.0 M87.0 164.62H344.0 M87.0 167.80H344.0 M87.0 170.97H344.0 M87.0 174.15H344.0 M87.0 177.32H344.0 M87.0 180.50H344.0 M87.0 183.68H344.0 M87.0 186.85H344.0 M87.0 190.02H344.0 M87.0 193.20H344.0 M87.0 196.38H344.0 M87.0 199.55H344.0 M87.0 202.72H344.0 M87.0 205.90H344.0 M87.0 209.07H344.0 M87.0 212.25H344.0 M87.0 215.43H344.0 M87.0 218.60H344.0 M87.0 221.77H344.0 M87.0 224.95H344.0 M87.0 228.12H344.0 M87.0 231.30H344.0 M87.0 234.47H344.0 M87.0 237.65H344.0 M119.12 117.00V240.82 M151.25 117.00V240.82 M183.38 117.00V240.82 M215.50 117.00V240.82 M247.62 117.00V240.82 M279.75 117.00V240.82 M311.88 117.00V240.82 M87.0 248.48H344.0 M87.0 251.65H344.0 M87.0 254.83H344.0 M87.0 258.00H344.0 M87.0 261.18H344.0 M87.0 264.35H344.0 M87.0 267.53H344.0 M87.0 270.70H344.0 M87.0 273.88H344.0 M87.0 277.05H344.0 M87.0 280.23H344.0 M87.0 283.40H344.0 M87.0 286.57H344.0 M87.0 289.75H344.0 M87.0 292.93H344.0 M87.0 296.10H344.0 M87.0 299.27H344.0 M87.0 302.45H344.0 M87.0 305.62H344.0 M87.0 308.80H344.0 M87.0 311.98H344.0 M87.0 315.15H344.0 M87.0 318.32H344.0 M87.0 321.50H344.0 M87.0 324.68H344.0 M87.0 327.85H344.0 M87.0 331.02H344.0 M87.0 334.20H344.0 M87.0 337.38H344.0 M87.0 340.55H344.0 M87.0 343.73H344.0 M87.0 346.90H344.0 M87.0 350.07H344.0 M87.0 353.25H344.0 M87.0 356.43H344.0 M87.0 359.60H344.0 M87.0 362.77H344.0 M87.0 365.95H344.0 M87.0 369.12H344.0 M87.0 372.30H344.0 M87.0 375.48H344.0 M87.0 378.65H344.0 M87.0 381.83H344.0 M87.0 385.00H344.0 M87.0 388.18H344.0 M87.0 391.35H344.0 M87.0 394.52H344.0 M87.0 397.70H344.0 M87.0 400.88H344.0 M87.0 404.05H344.0 M87.0 407.23H344.0 M87.0 410.40H344.0 M87.0 413.57H344.0 M87.0 416.75H344.0 M87.0 419.93H344.0 M87.0 423.10H344.0 M87.0 426.27H344.0 M87.0 429.45H344.0 M87.0 432.62H344.0 M87.0 435.80H344.0 M87.0 438.98H344.0 M87.0 442.15H344.0 M87.0 445.32H344.0 M87.0 448.50H344.0 M87.0 451.68H344.0 M87.0 454.85H344.0 M87.0 458.02H344.0 M87.0 461.20H344.0 M87.0 464.38H344.0 M87.0 467.55H344.0 M87.0 470.73H344.0 M87.0 473.90H344.0 M87.0 477.07H344.0 M87.0 480.25H344.0 M87.0 483.43H344.0 M87.0 486.60H344.0 M87.0 489.77H344.0 M87.0 492.95H344.0 M87.0 496.12H344.0 M87.0 499.30H344.0 M87.0 502.48H344.0 M87.0 505.65H344.0 M87.0 508.82H344.0 M87.0 512.00H344.0 M87.0 515.17H344.0 M87.0 518.35H344.0 M87.0 521.52H344.0 M87.0 524.70H344.0 M87.0 527.88H344.0 M87.0 531.05H344.0 M87.0 534.23H344.0 M87.0 537.40H344.0 M87.0 540.58H344.0 M87.0 543.75H344.0 M87.0 546.92H344.0 M87.0 550.10H344.0 M87.0 553.27H344.0 M87.0 556.45H344.0 M87.0 559.62H344.0 M87.0 562.80H344.0 M119.12 245.30V565.97 M151.25 245.30V565.97 M183.38 245.30V565.97 M215.50 245.30V565.97 M247.62 245.30V565.97 M279.75 245.30V565.97 M311.88 245.30V565.97" stroke="#fff" stroke-opacity="0.12" stroke-width="0.5" fill="none" shape-rendering="auto"/>
<rect x="60" y="42.0" width="10.2" height="69.85" fill="#e0e1e2"/>
<rect x="60" y="117.0" width="10.2" height="123.82" fill="#9d9fa2"/>
<rect x="60" y="245.3" width="10.2" height="320.67" fill="#231f20"/>
<path d="M60 45.17H70.2 M60 48.35H70.2 M60 51.52H70.2 M60 54.70H70.2 M60 57.88H70.2 M60 61.05H70.2 M60 64.22H70.2 M60 67.40H70.2 M60 70.58H70.2 M60 73.75H70.2 M60 76.92H70.2 M60 80.10H70.2 M60 83.28H70.2 M60 86.45H70.2 M60 89.62H70.2 M60 92.80H70.2 M60 95.97H70.2 M60 99.15H70.2 M60 102.32H70.2 M60 105.50H70.2 M60 108.67H70.2 M60 120.17H70.2 M60 123.35H70.2 M60 126.53H70.2 M60 129.70H70.2 M60 132.88H70.2 M60 136.05H70.2 M60 139.22H70.2 M60 142.40H70.2 M60 145.57H70.2 M60 148.75H70.2 M60 151.93H70.2 M60 155.10H70.2 M60 158.28H70.2 M60 161.45H70.2 M60 164.62H70.2 M60 167.80H70.2 M60 170.97H70.2 M60 174.15H70.2 M60 177.32H70.2 M60 180.50H70.2 M60 183.68H70.2 M60 186.85H70.2 M60 190.02H70.2 M60 193.20H70.2 M60 196.38H70.2 M60 199.55H70.2 M60 202.72H70.2 M60 205.90H70.2 M60 209.07H70.2 M60 212.25H70.2 M60 215.43H70.2 M60 218.60H70.2 M60 221.77H70.2 M60 224.95H70.2 M60 228.12H70.2 M60 231.30H70.2 M60 234.47H70.2 M60 237.65H70.2 M60 248.48H70.2 M60 251.65H70.2 M60 254.83H70.2 M60 258.00H70.2 M60 261.18H70.2 M60 264.35H70.2 M60 267.53H70.2 M60 270.70H70.2 M60 273.88H70.2 M60 277.05H70.2 M60 280.23H70.2 M60 283.40H70.2 M60 286.57H70.2 M60 289.75H70.2 M60 292.93H70.2 M60 296.10H70.2 M60 299.27H70.2 M60 302.45H70.2 M60 305.62H70.2 M60 308.80H70.2 M60 311.98H70.2 M60 315.15H70.2 M60 318.32H70.2 M60 321.50H70.2 M60 324.68H70.2 M60 327.85H70.2 M60 331.02H70.2 M60 334.20H70.2 M60 337.38H70.2 M60 340.55H70.2 M60 343.73H70.2 M60 346.90H70.2 M60 350.07H70.2 M60 353.25H70.2 M60 356.43H70.2 M60 359.60H70.2 M60 362.77H70.2 M60 365.95H70.2 M60 369.12H70.2 M60 372.30H70.2 M60 375.48H70.2 M60 378.65H70.2 M60 381.83H70.2 M60 385.00H70.2 M60 388.18H70.2 M60 391.35H70.2 M60 394.52H70.2 M60 397.70H70.2 M60 400.88H70.2 M60 404.05H70.2 M60 407.23H70.2 M60 410.40H70.2 M60 413.57H70.2 M60 416.75H70.2 M60 419.93H70.2 M60 423.10H70.2 M60 426.27H70.2 M60 429.45H70.2 M60 432.62H70.2 M60 435.80H70.2 M60 438.98H70.2 M60 442.15H70.2 M60 445.32H70.2 M60 448.50H70.2 M60 451.68H70.2 M60 454.85H70.2 M60 458.02H70.2 M60 461.20H70.2 M60 464.38H70.2 M60 467.55H70.2 M60 470.73H70.2 M60 473.90H70.2 M60 477.07H70.2 M60 480.25H70.2 M60 483.43H70.2 M60 486.60H70.2 M60 489.77H70.2 M60 492.95H70.2 M60 496.12H70.2 M60 499.30H70.2 M60 502.48H70.2 M60 505.65H70.2 M60 508.82H70.2 M60 512.00H70.2 M60 515.17H70.2 M60 518.35H70.2 M60 521.52H70.2 M60 524.70H70.2 M60 527.88H70.2 M60 531.05H70.2 M60 534.23H70.2 M60 537.40H70.2 M60 540.58H70.2 M60 543.75H70.2 M60 546.92H70.2 M60 550.10H70.2 M60 553.27H70.2 M60 556.45H70.2 M60 559.62H70.2 M60 562.80H70.2" stroke="#fff" stroke-opacity="0.07" stroke-width="0.5" fill="none" shape-rendering="auto"/>
<rect x="72.6" y="51.52" width="11.2" height="3.38" fill="#9ecdfc"/>
<rect x="72.6" y="54.70" width="11.2" height="3.38" fill="#ff9966"/>
<rect x="72.6" y="67.40" width="11.2" height="3.38" fill="#cc6699"/>
<rect x="72.6" y="76.92" width="11.2" height="3.38" fill="#9999ff"/>
<rect x="72.6" y="80.10" width="11.2" height="3.38" fill="#cc6699"/>
<rect x="72.6" y="83.28" width="11.2" height="3.38" fill="#fffb8f"/>
<rect x="72.6" y="86.45" width="11.2" height="3.38" fill="#cc6666"/>
<rect x="72.6" y="89.62" width="11.2" height="3.38" fill="#c994c8"/>
<rect x="72.6" y="95.97" width="11.2" height="3.38" fill="#8c2518"/>
<rect x="72.6" y="105.50" width="11.2" height="3.38" fill="#cc6699"/>
<rect x="72.6" y="108.67" width="11.2" height="3.38" fill="#6a3f68"/>
<rect x="72.6" y="148.75" width="11.2" height="3.38" fill="#6688cc"/>
<rect x="72.6" y="155.10" width="11.2" height="3.38" fill="#cc6666"/>
<rect x="72.6" y="164.62" width="11.2" height="3.38" fill="#cc6666"/>
<rect x="72.6" y="174.15" width="11.2" height="3.38" fill="#cc6666"/>
<rect x="72.6" y="177.32" width="11.2" height="3.38" fill="#ff9966"/>
<rect x="72.6" y="183.68" width="11.2" height="3.38" fill="#cc6666"/>
<rect x="72.6" y="186.85" width="11.2" height="3.38" fill="#9ecdfc"/>
<rect x="72.6" y="190.02" width="11.2" height="3.38" fill="#cc6666"/>
<rect x="72.6" y="199.55" width="11.2" height="3.38" fill="#cc6666"/>
<rect x="72.6" y="202.72" width="11.2" height="3.38" fill="#cc6666"/>
<rect x="72.6" y="209.07" width="11.2" height="3.38" fill="#9999cc"/>
<rect x="72.6" y="221.77" width="11.2" height="3.38" fill="#9ecdfc"/>
<rect x="72.6" y="237.65" width="11.2" height="3.38" fill="#9ecdfc"/>
<rect x="72.6" y="245.30" width="11.2" height="3.38" fill="#9ecdfc"/>
<rect x="72.6" y="248.48" width="11.2" height="3.38" fill="#9ecdfc"/>
<rect x="72.6" y="251.65" width="11.2" height="3.38" fill="#b8a659"/>
<rect x="72.6" y="261.18" width="11.2" height="3.38" fill="#9ecdfc"/>
<rect x="72.6" y="267.53" width="11.2" height="3.38" fill="#cc6666"/>
<rect x="72.6" y="270.70" width="11.2" height="3.38" fill="#9999cc"/>
<rect x="72.6" y="273.88" width="11.2" height="3.38" fill="#cc6666"/>
<rect x="72.6" y="277.05" width="11.2" height="3.38" fill="#9999ff"/>
<rect x="72.6" y="280.23" width="11.2" height="3.38" fill="#3266cc"/>
<rect x="72.6" y="286.57" width="11.2" height="3.38" fill="#3266cc"/>
<rect x="72.6" y="296.10" width="11.2" height="3.38" fill="#cc6666"/>
<rect x="72.6" y="299.27" width="11.2" height="3.38" fill="#cc6666"/>
<rect x="72.6" y="302.45" width="11.2" height="3.38" fill="#3266cc"/>
<rect x="72.6" y="305.62" width="11.2" height="3.38" fill="#cc6666"/>
<rect x="72.6" y="315.15" width="11.2" height="3.38" fill="#cc6666"/>
<rect x="72.6" y="321.50" width="11.2" height="3.38" fill="#cc6699"/>
<rect x="72.6" y="334.20" width="11.2" height="3.38" fill="#9ecdfc"/>
<rect x="72.6" y="337.38" width="11.2" height="3.38" fill="#cc6666"/>
<rect x="72.6" y="346.90" width="11.2" height="3.38" fill="#cc6666"/>
<rect x="72.6" y="350.07" width="11.2" height="3.38" fill="#cc6666"/>
<rect x="72.6" y="353.25" width="11.2" height="3.38" fill="#cc6666"/>
<rect x="72.6" y="362.77" width="11.2" height="3.38" fill="#fffb8f"/>
<rect x="72.6" y="365.95" width="11.2" height="3.38" fill="#cc6699"/>
<rect x="72.6" y="369.12" width="11.2" height="3.38" fill="#cc6666"/>
<rect x="72.6" y="375.48" width="11.2" height="3.38" fill="#cc6666"/>
<rect x="72.6" y="381.83" width="11.2" height="3.38" fill="#cc6666"/>
<rect x="72.6" y="385.00" width="11.2" height="3.38" fill="#9999ff"/>
<rect x="72.6" y="388.18" width="11.2" height="3.38" fill="#cc6666"/>
<rect x="72.6" y="391.35" width="11.2" height="3.38" fill="#9ecdfc"/>
<rect x="72.6" y="400.88" width="11.2" height="3.38" fill="#cc6699"/>
<rect x="72.6" y="404.05" width="11.2" height="3.38" fill="#cc6666"/>
<rect x="72.6" y="407.23" width="11.2" height="3.38" fill="#cc6666"/>
<rect x="72.6" y="413.57" width="11.2" height="3.38" fill="#9999cc"/>
<rect x="72.6" y="416.75" width="11.2" height="3.38" fill="#fdc868"/>
<rect x="72.6" y="419.93" width="11.2" height="3.38" fill="#9999cc"/>
<rect x="72.6" y="426.27" width="11.2" height="3.38" fill="#cc6666"/>
<rect x="72.6" y="429.45" width="11.2" height="3.38" fill="#cc6666"/>
<rect x="72.6" y="432.62" width="11.2" height="3.38" fill="#cc6699"/>
<rect x="72.6" y="435.80" width="11.2" height="3.38" fill="#fec79c"/>
<rect x="72.6" y="445.32" width="11.2" height="3.38" fill="#cc6666"/>
<rect x="72.6" y="448.50" width="11.2" height="3.38" fill="#126699"/>
<rect x="72.6" y="451.68" width="11.2" height="3.38" fill="#9999cc"/>
<rect x="72.6" y="454.85" width="11.2" height="3.38" fill="#cc6666"/>
<rect x="72.6" y="473.90" width="11.2" height="3.38" fill="#fdc868"/>
<rect x="72.6" y="480.25" width="11.2" height="3.38" fill="#ff9966"/>
<rect x="72.6" y="483.43" width="11.2" height="3.38" fill="#cc6699"/>
<rect x="72.6" y="508.82" width="11.2" height="3.38" fill="#cc6666"/>
<rect x="72.6" y="524.70" width="11.2" height="3.38" fill="#cc6666"/>
<rect x="72.6" y="527.88" width="11.2" height="3.38" fill="#cc6666"/>
<rect x="72.6" y="531.05" width="11.2" height="3.38" fill="#ff9966"/>
<rect x="72.6" y="537.40" width="11.2" height="3.38" fill="#9ecdfc"/>
<rect x="72.6" y="543.75" width="11.2" height="3.38" fill="#ff9966"/>
<rect x="72.6" y="550.10" width="11.2" height="3.38" fill="#9ecdfc"/>
<rect x="72.6" y="556.45" width="11.2" height="3.38" fill="#9999cc"/>
<rect x="72.6" y="559.62" width="11.2" height="3.38" fill="#9ecdfc"/>
<rect x="72.6" y="562.80" width="11.2" height="3.38" fill="#ff9966"/>
<path d="M58.00 43.59H50.40V46.76H58.00 M58.00 49.94H49.30V53.11H58.00 M50.40 45.17H41.90V51.52H49.30 M58.00 56.29H41.90V59.46H58.00 M41.90 48.35H32.40V57.88H41.90 M58.00 62.64H48.60V65.81H58.00 M58.00 72.16H46.70V75.34H58.00 M58.00 68.99H35.30V73.75H46.70 M48.60 64.22H29.80V71.37H35.30 M32.40 53.11H14.60V67.80H29.80 M58.00 81.69H42.50V84.86H58.00 M58.00 78.51H40.10V83.28H42.50 M58.00 91.21H49.40V94.39H58.00 M58.00 88.04H37.40V92.80H49.40 M58.00 100.74H46.50V103.91H58.00 M58.00 107.09H43.60V110.26H58.00 M46.50 102.33H36.90V108.68H43.60 M58.00 97.56H33.40V105.50H36.90 M37.40 90.42H27.90V101.53H33.40 M40.10 80.89H14.40V95.97H27.90 M14.60 60.45H7.70V88.43H14.40 M58.00 118.59H41.80V121.76H58.00 M58.00 128.11H55.40V131.29H58.00 M58.00 124.94H52.50V129.70H55.40 M58.00 140.81H52.90V143.99H58.00 M58.00 137.64H50.80V142.40H52.90 M58.00 134.46H48.50V140.02H50.80 M52.50 127.32H45.40V137.24H48.50 M58.00 150.34H50.80V153.51H58.00 M58.00 147.16H41.60V151.93H50.80 M45.40 132.28H32.40V149.54H41.60 M41.80 120.18H29.50V140.91H32.40 M58.00 163.04H56.00V166.21H58.00 M58.00 159.86H47.30V164.62H56.00 M58.00 172.56H50.50V175.74H58.00 M58.00 169.39H42.90V174.15H50.50 M47.30 162.24H40.50V171.77H42.90 M58.00 156.69H28.50V167.01H40.50 M58.00 185.26H52.50V188.44H58.00 M58.00 182.09H49.60V186.85H52.50 M58.00 194.79H55.10V197.96H58.00 M58.00 191.61H52.60V196.38H55.10 M58.00 204.31H51.60V207.49H58.00 M58.00 201.14H48.70V205.90H51.60 M52.60 193.99H46.40V203.52H48.70 M49.60 184.47H42.90V198.76H46.40 M58.00 226.54H57.80V229.71H58.00 M58.00 223.36H57.80V228.12H57.80 M58.00 220.19H57.80V225.74H57.80 M58.00 217.01H57.80V222.97H57.80 M58.00 213.84H57.80V219.99H57.80 M58.00 210.66H50.40V216.91H57.80 M58.00 236.06H51.70V239.24H58.00 M58.00 232.89H48.40V237.65H51.70 M50.40 213.79H42.00V235.27H48.40 M42.90 191.61H32.20V224.53H42.00 M58.00 178.91H27.10V208.07H32.20 M28.50 161.85H20.60V193.49H27.10 M29.50 130.54H8.30V177.67H20.60 M58.00 250.06H34.90V253.24H58.00 M58.00 246.89H18.40V251.65H34.90 M58.00 262.76H58.00V265.94H58.00 M58.00 264.35H56.80V269.11H58.00 M58.00 272.29H56.50V275.46H58.00 M56.80 266.73H53.50V273.88H56.50 M58.00 278.64H58.00V281.81H58.00 M58.00 280.23H58.00V284.99H58.00 M58.00 282.61H58.00V288.16H58.00 M58.00 291.34H58.00V294.51H58.00 M58.00 285.38H56.00V292.92H58.00 M58.00 297.69H54.20V300.86H58.00 M58.00 304.04H56.00V307.21H58.00 M54.20 299.27H54.20V305.62H56.00 M56.00 289.15H52.70V302.45H54.20 M53.50 270.30H49.40V295.80H52.70 M58.00 313.56H55.48V316.74H58.00 M58.00 319.91H55.48V323.09H58.00 M55.48 321.50H54.67V326.26H58.00 M55.48 315.15H54.09V323.88H54.67 M58.00 310.39H53.20V319.52H54.09 M58.00 332.61H55.80V335.79H58.00 M58.00 329.44H54.82V334.20H55.80 M58.00 338.96H55.80V342.14H58.00 M55.80 340.55H55.09V345.31H58.00 M54.82 331.82H53.20V342.93H55.09 M53.20 314.95H46.00V337.38H53.20 M49.40 283.05H44.30V326.16H46.00 M58.00 259.59H43.00V304.61H44.30 M58.00 256.41H40.30V282.10H43.00 M58.00 348.49H56.60V351.66H58.00 M58.00 354.84H58.00V358.01H58.00 M58.00 356.42H58.00V361.19H58.00 M58.00 358.81H54.50V364.36H58.00 M56.60 350.07H52.70V361.58H54.50 M58.00 367.54H55.29V370.71H58.00 M58.00 373.89H57.00V377.06H58.00 M57.00 375.48H55.59V380.24H58.00 M55.29 369.12H54.20V377.86H55.59 M58.00 386.59H55.57V389.76H58.00 M58.00 383.41H54.50V388.17H55.57 M54.20 373.49H51.20V385.79H54.50 M52.70 355.83H49.80V379.64H51.20 M58.00 392.94H53.00V396.11H58.00 M58.00 399.29H55.00V402.46H58.00 M53.00 394.52H46.40V400.88H55.00 M49.80 367.74H44.00V397.70H46.40 M58.00 405.64H56.00V408.81H58.00 M58.00 411.99H57.00V415.16H58.00 M56.00 407.23H53.70V413.57H57.00 M58.00 421.51H52.20V424.69H58.00 M58.00 418.34H50.80V423.10H52.20 M53.70 410.40H47.90V420.72H50.80 M58.00 431.04H50.80V434.21H58.00 M58.00 427.86H48.40V432.62H50.80 M58.00 440.56H55.60V443.74H58.00 M58.00 453.26H54.60V456.44H58.00 M58.00 450.09H51.70V454.85H54.60 M58.00 446.91H49.20V452.47H51.70 M55.60 442.15H48.40V449.69H49.20 M58.00 437.39H45.50V445.92H48.40 M48.40 430.24H42.10V441.65H45.50 M47.90 415.56H38.70V435.95H42.10 M44.00 382.72H35.30V425.75H38.70 M40.30 269.26H29.50V404.24H35.30 M58.00 462.79H56.50V465.96H58.00 M58.00 459.61H53.70V464.38H56.50 M58.00 469.14H52.70V472.31H58.00 M58.00 475.49H58.00V478.66H58.00 M52.70 470.73H52.70V477.07H58.00 M53.70 461.99H50.30V473.90H52.70 M58.00 485.01H58.00V488.19H58.00 M58.00 486.60H58.00V491.36H58.00 M58.00 481.84H52.20V488.98H58.00 M58.00 497.71H56.00V500.89H58.00 M58.00 504.06H56.00V507.24H58.00 M56.00 499.30H52.70V505.65H56.00 M58.00 494.54H48.40V502.47H52.70 M52.20 485.41H44.50V498.51H48.40 M58.00 510.41H55.00V513.59H58.00 M58.00 516.76H55.50V519.94H58.00 M55.00 512.00H51.00V518.35H55.50 M58.00 529.46H56.00V532.64H58.00 M58.00 526.29H50.00V531.05H56.00 M58.00 523.11H45.00V528.67H50.00 M51.00 515.17H44.00V525.89H45.00 M44.50 491.96H40.30V520.53H44.00 M50.30 467.95H38.20V506.25H40.30 M58.00 542.16H54.50V545.34H58.00 M58.00 538.99H49.50V543.75H54.50 M58.00 548.51H49.00V551.69H58.00 M49.50 541.37H44.50V550.10H49.00 M58.00 561.21H54.00V564.39H58.00 M58.00 558.04H48.50V562.80H54.00 M58.00 554.86H44.50V560.42H48.50 M44.50 545.73H34.00V557.64H44.50 M58.00 535.81H30.50V551.69H34.00 M38.20 487.10H19.20V543.75H30.50 M29.50 336.75H13.20V515.42H19.20 M18.40 249.27H5.00V426.08H13.20 M8.30 154.11H4.00V337.68H5.00 M7.70 74.44H1.10V245.89H4.00" fill="none" stroke="#111" stroke-width="1.2" shape-rendering="auto"/>
<text x="348" y="45.79" font-size="6.3" fill="#3a3a3a">34</text>
<text x="348" y="48.96" font-size="6.3" fill="#3a3a3a">56</text>
<text x="348" y="52.14" font-size="6.3" fill="#3a3a3a">142</text>
<text x="348" y="55.31" font-size="6.3" fill="#3a3a3a">152</text>
<text x="348" y="58.49" font-size="6.3" fill="#3a3a3a">59</text>
<text x="348" y="61.66" font-size="6.3" fill="#3a3a3a">148</text>
<text x="348" y="64.84" font-size="6.3" fill="#3a3a3a">7</text>
<text x="348" y="68.01" font-size="6.3" fill="#3a3a3a">50</text>
<text x="348" y="71.19" font-size="6.3" fill="#3a3a3a">109</text>
<text x="348" y="74.36" font-size="6.3" fill="#3a3a3a">42</text>
<text x="348" y="77.54" font-size="6.3" fill="#3a3a3a">33</text>
<text x="348" y="80.71" font-size="6.3" fill="#3a3a3a">118</text>
<text x="348" y="83.89" font-size="6.3" fill="#3a3a3a">97</text>
<text x="348" y="87.06" font-size="6.3" fill="#3a3a3a">127</text>
<text x="348" y="90.24" font-size="6.3" fill="#3a3a3a">20</text>
<text x="348" y="93.41" font-size="6.3" fill="#3a3a3a">86</text>
<text x="348" y="96.59" font-size="6.3" fill="#3a3a3a">98</text>
<text x="348" y="99.76" font-size="6.3" fill="#3a3a3a">80</text>
<text x="348" y="102.94" font-size="6.3" fill="#3a3a3a">76</text>
<text x="348" y="106.11" font-size="6.3" fill="#3a3a3a">55</text>
<text x="348" y="109.29" font-size="6.3" fill="#3a3a3a">70</text>
<text x="348" y="112.46" font-size="6.3" fill="#3a3a3a">45</text>
<text x="348" y="120.79" font-size="6.3" fill="#3a3a3a">5</text>
<text x="348" y="123.96" font-size="6.3" fill="#3a3a3a">48</text>
<text x="348" y="127.14" font-size="6.3" fill="#3a3a3a">19</text>
<text x="348" y="130.31" font-size="6.3" fill="#3a3a3a">25</text>
<text x="348" y="133.49" font-size="6.3" fill="#3a3a3a">122</text>
<text x="348" y="136.66" font-size="6.3" fill="#3a3a3a">159</text>
<text x="348" y="139.84" font-size="6.3" fill="#3a3a3a">174</text>
<text x="348" y="143.01" font-size="6.3" fill="#3a3a3a">78</text>
<text x="348" y="146.19" font-size="6.3" fill="#3a3a3a">66</text>
<text x="348" y="149.36" font-size="6.3" fill="#3a3a3a">31</text>
<text x="348" y="152.54" font-size="6.3" fill="#3a3a3a">9</text>
<text x="348" y="155.71" font-size="6.3" fill="#3a3a3a">103</text>
<text x="348" y="158.89" font-size="6.3" fill="#3a3a3a">104</text>
<text x="348" y="162.06" font-size="6.3" fill="#3a3a3a">89</text>
<text x="348" y="165.24" font-size="6.3" fill="#3a3a3a">29</text>
<text x="348" y="168.41" font-size="6.3" fill="#3a3a3a">161</text>
<text x="348" y="171.59" font-size="6.3" fill="#3a3a3a">75</text>
<text x="348" y="174.76" font-size="6.3" fill="#3a3a3a">8</text>
<text x="348" y="177.94" font-size="6.3" fill="#3a3a3a">140</text>
<text x="348" y="181.11" font-size="6.3" fill="#3a3a3a">107</text>
<text x="348" y="184.29" font-size="6.3" fill="#3a3a3a">126</text>
<text x="348" y="187.46" font-size="6.3" fill="#3a3a3a">83</text>
<text x="348" y="190.64" font-size="6.3" fill="#3a3a3a">144</text>
<text x="348" y="193.81" font-size="6.3" fill="#3a3a3a">170</text>
<text x="348" y="196.99" font-size="6.3" fill="#3a3a3a">15</text>
<text x="348" y="200.16" font-size="6.3" fill="#3a3a3a">93</text>
<text x="348" y="203.34" font-size="6.3" fill="#3a3a3a">138</text>
<text x="348" y="206.51" font-size="6.3" fill="#3a3a3a">61</text>
<text x="348" y="209.69" font-size="6.3" fill="#3a3a3a">115</text>
<text x="348" y="212.86" font-size="6.3" fill="#3a3a3a">47</text>
<text x="348" y="216.04" font-size="6.3" fill="#3a3a3a">6</text>
<text x="348" y="219.21" font-size="6.3" fill="#3a3a3a">102</text>
<text x="348" y="222.39" font-size="6.3" fill="#3a3a3a">105</text>
<text x="348" y="225.56" font-size="6.3" fill="#3a3a3a">87</text>
<text x="348" y="228.74" font-size="6.3" fill="#3a3a3a">63</text>
<text x="348" y="231.91" font-size="6.3" fill="#3a3a3a">69</text>
<text x="348" y="235.09" font-size="6.3" fill="#3a3a3a">4</text>
<text x="348" y="238.26" font-size="6.3" fill="#3a3a3a">65</text>
<text x="348" y="241.44" font-size="6.3" fill="#3a3a3a">150</text>
<text x="348" y="249.09" font-size="6.3" fill="#3a3a3a">30</text>
<text x="348" y="252.26" font-size="6.3" fill="#3a3a3a">82</text>
<text x="348" y="255.44" font-size="6.3" fill="#3a3a3a">132</text>
<text x="348" y="258.61" font-size="6.3" fill="#3a3a3a">131</text>
<text x="348" y="261.79" font-size="6.3" fill="#3a3a3a">57</text>
<text x="348" y="264.96" font-size="6.3" fill="#3a3a3a">32</text>
<text x="348" y="268.14" font-size="6.3" fill="#3a3a3a">92</text>
<text x="348" y="271.31" font-size="6.3" fill="#3a3a3a">95</text>
<text x="348" y="274.49" font-size="6.3" fill="#3a3a3a">49</text>
<text x="348" y="277.66" font-size="6.3" fill="#3a3a3a">40</text>
<text x="348" y="280.84" font-size="6.3" fill="#3a3a3a">14</text>
<text x="348" y="284.01" font-size="6.3" fill="#3a3a3a">169</text>
<text x="348" y="287.19" font-size="6.3" fill="#3a3a3a">77</text>
<text x="348" y="290.36" font-size="6.3" fill="#3a3a3a">117</text>
<text x="348" y="293.54" font-size="6.3" fill="#3a3a3a">27</text>
<text x="348" y="296.71" font-size="6.3" fill="#3a3a3a">41</text>
<text x="348" y="299.89" font-size="6.3" fill="#3a3a3a">67</text>
<text x="348" y="303.06" font-size="6.3" fill="#3a3a3a">172</text>
<text x="348" y="306.24" font-size="6.3" fill="#3a3a3a">141</text>
<text x="348" y="309.41" font-size="6.3" fill="#3a3a3a">158</text>
<text x="348" y="312.59" font-size="6.3" fill="#3a3a3a">163</text>
<text x="348" y="315.76" font-size="6.3" fill="#3a3a3a">54</text>
<text x="348" y="318.94" font-size="6.3" fill="#3a3a3a">79</text>
<text x="348" y="322.11" font-size="6.3" fill="#3a3a3a">143</text>
<text x="348" y="325.29" font-size="6.3" fill="#3a3a3a">13</text>
<text x="348" y="328.46" font-size="6.3" fill="#3a3a3a">108</text>
<text x="348" y="331.64" font-size="6.3" fill="#3a3a3a">91</text>
<text x="348" y="334.81" font-size="6.3" fill="#3a3a3a">73</text>
<text x="348" y="337.99" font-size="6.3" fill="#3a3a3a">116</text>
<text x="348" y="341.16" font-size="6.3" fill="#3a3a3a">39</text>
<text x="348" y="344.34" font-size="6.3" fill="#3a3a3a">28</text>
<text x="348" y="347.51" font-size="6.3" fill="#3a3a3a">35</text>
<text x="348" y="350.69" font-size="6.3" fill="#3a3a3a">164</text>
<text x="348" y="353.86" font-size="6.3" fill="#3a3a3a">84</text>
<text x="348" y="357.04" font-size="6.3" fill="#3a3a3a">149</text>
<text x="348" y="360.21" font-size="6.3" fill="#3a3a3a">11</text>
<text x="348" y="363.39" font-size="6.3" fill="#3a3a3a">62</text>
<text x="348" y="366.56" font-size="6.3" fill="#3a3a3a">171</text>
<text x="348" y="369.74" font-size="6.3" fill="#3a3a3a">129</text>
<text x="348" y="372.91" font-size="6.3" fill="#3a3a3a">74</text>
<text x="348" y="376.09" font-size="6.3" fill="#3a3a3a">145</text>
<text x="348" y="379.26" font-size="6.3" fill="#3a3a3a">146</text>
<text x="348" y="382.44" font-size="6.3" fill="#3a3a3a">94</text>
<text x="348" y="385.61" font-size="6.3" fill="#3a3a3a">52</text>
<text x="348" y="388.79" font-size="6.3" fill="#3a3a3a">3</text>
<text x="348" y="391.96" font-size="6.3" fill="#3a3a3a">53</text>
<text x="348" y="395.14" font-size="6.3" fill="#3a3a3a">85</text>
<text x="348" y="398.31" font-size="6.3" fill="#3a3a3a">160</text>
<text x="348" y="401.49" font-size="6.3" fill="#3a3a3a">46</text>
<text x="348" y="404.66" font-size="6.3" fill="#3a3a3a">110</text>
<text x="348" y="407.84" font-size="6.3" fill="#3a3a3a">16</text>
<text x="348" y="411.01" font-size="6.3" fill="#3a3a3a">111</text>
<text x="348" y="414.19" font-size="6.3" fill="#3a3a3a">51</text>
<text x="348" y="417.36" font-size="6.3" fill="#3a3a3a">168</text>
<text x="348" y="420.54" font-size="6.3" fill="#3a3a3a">90</text>
<text x="348" y="423.71" font-size="6.3" fill="#3a3a3a">81</text>
<text x="348" y="426.89" font-size="6.3" fill="#3a3a3a">156</text>
<text x="348" y="430.06" font-size="6.3" fill="#3a3a3a">17</text>
<text x="348" y="433.24" font-size="6.3" fill="#3a3a3a">120</text>
<text x="348" y="436.41" font-size="6.3" fill="#3a3a3a">167</text>
<text x="348" y="439.59" font-size="6.3" fill="#3a3a3a">22</text>
<text x="348" y="442.76" font-size="6.3" fill="#3a3a3a">68</text>
<text x="348" y="445.94" font-size="6.3" fill="#3a3a3a">88</text>
<text x="348" y="449.11" font-size="6.3" fill="#3a3a3a">12</text>
<text x="348" y="452.29" font-size="6.3" fill="#3a3a3a">2</text>
<text x="348" y="455.46" font-size="6.3" fill="#3a3a3a">60</text>
<text x="348" y="458.64" font-size="6.3" fill="#3a3a3a">121</text>
<text x="348" y="461.81" font-size="6.3" fill="#3a3a3a">24</text>
<text x="348" y="464.99" font-size="6.3" fill="#3a3a3a">71</text>
<text x="348" y="468.16" font-size="6.3" fill="#3a3a3a">18</text>
<text x="348" y="471.34" font-size="6.3" fill="#3a3a3a">96</text>
<text x="348" y="474.51" font-size="6.3" fill="#3a3a3a">72</text>
<text x="348" y="477.69" font-size="6.3" fill="#3a3a3a">135</text>
<text x="348" y="480.86" font-size="6.3" fill="#3a3a3a">151</text>
<text x="348" y="484.04" font-size="6.3" fill="#3a3a3a">124</text>
<text x="348" y="487.21" font-size="6.3" fill="#3a3a3a">154</text>
<text x="348" y="490.39" font-size="6.3" fill="#3a3a3a">37</text>
<text x="348" y="493.56" font-size="6.3" fill="#3a3a3a">26</text>
<text x="348" y="496.74" font-size="6.3" fill="#3a3a3a">1</text>
<text x="348" y="499.91" font-size="6.3" fill="#3a3a3a">23</text>
<text x="348" y="503.09" font-size="6.3" fill="#3a3a3a">157</text>
<text x="348" y="506.26" font-size="6.3" fill="#3a3a3a">21</text>
<text x="348" y="509.44" font-size="6.3" fill="#3a3a3a">130</text>
<text x="348" y="512.61" font-size="6.3" fill="#3a3a3a">99</text>
<text x="348" y="515.79" font-size="6.3" fill="#3a3a3a">43</text>
<text x="348" y="518.96" font-size="6.3" fill="#3a3a3a">44</text>
<text x="348" y="522.14" font-size="6.3" fill="#3a3a3a">106</text>
<text x="348" y="525.31" font-size="6.3" fill="#3a3a3a">38</text>
<text x="348" y="528.49" font-size="6.3" fill="#3a3a3a">36</text>
<text x="348" y="531.66" font-size="6.3" fill="#3a3a3a">10</text>
<text x="348" y="534.84" font-size="6.3" fill="#3a3a3a">153</text>
<text x="348" y="538.01" font-size="6.3" fill="#3a3a3a">173</text>
<text x="348" y="541.19" font-size="6.3" fill="#3a3a3a">58</text>
<text x="348" y="544.36" font-size="6.3" fill="#3a3a3a">64</text>
<text x="348" y="547.54" font-size="6.3" fill="#3a3a3a">166</text>
<text x="348" y="550.71" font-size="6.3" fill="#3a3a3a">46</text>
<text x="348" y="553.89" font-size="6.3" fill="#3a3a3a">10</text>
<text x="348" y="557.06" font-size="6.3" fill="#3a3a3a">28</text>
<text x="348" y="560.24" font-size="6.3" fill="#3a3a3a">113</text>
<text x="348" y="563.41" font-size="6.3" fill="#3a3a3a">123</text>
<text x="348" y="566.59" font-size="6.3" fill="#3a3a3a">136</text>
</svg>
<div class="t" style="left:348px;top:2.992899999999998px;font-size:9.4px;">DOM Molecular Richness</div>
<div class="t" style="left:348px;top:15.8429px;font-size:9.4px;">DOM Molecular Diversity (Hill Numbers<span class="sub">(q=2)</span>)</div>
<div class="t" style="left:348px;top:28.5429px;font-size:9.4px;letter-spacing:-0.16px;">DOM Functional Molecular Diversity (Rao<span class="sub">(multivariate)</span>)</div>
<div class="t" style="left:448.8px;top:55.542899999999996px;font-size:9.4px;">Heatmap</div>
<div class="t" style="left:448.8px;top:66.5429px;font-size:9.4px;">Score</div>
<div class="box" style="left:452px;top:89.7px;width:14px;height:202.8px;background:linear-gradient(to bottom,#fcfdbf 0%,#fde7a9 5%,#fecf92 10%,#feb77e 15%,#fe9f6d 20%,#fc8961 25%,#f7705c 30%,#ed5a5f 35%,#de4968 40%,#ca3e72 45%,#b73779 50%,#a1307e 55%,#8c2981 60%,#782281 65%,#641a80 70%,#51127c 75%,#3b0f70 80%,#251255 85%,#140e36 90%,#06051a 95%,#000004 100%);"></div>
<div class="t" style="left:470.5px;top:106.14290000000001px;font-size:9.4px;">2</div>
<div class="t" style="left:470.5px;top:147.1429px;font-size:9.4px;">1</div>
<div class="t" style="left:470.5px;top:188.24290000000002px;font-size:9.4px;">0</div>
<div class="t" style="left:470.5px;top:229.24290000000002px;font-size:9.4px;">−1</div>
<div class="t" style="left:470.5px;top:270.24289999999996px;font-size:9.4px;">−2</div>
<div class="t" style="left:450.6px;top:302.1429px;font-size:9.4px;">Cluster</div>
<div class="box" style="left:452px;top:315.0px;width:18.7px;height:19.5px;background:#231f20;"></div>
<div class="t" style="left:475.5px;top:321.14289999999994px;font-size:9.4px;">1</div>
<div class="box" style="left:452px;top:334.4px;width:18.7px;height:19.5px;background:#9d9fa2;"></div>
<div class="t" style="left:475.5px;top:340.5428999999999px;font-size:9.4px;">2</div>
<div class="box" style="left:452px;top:353.8px;width:18.7px;height:19.5px;background:#e0e1e2;"></div>
<div class="t" style="left:475.5px;top:359.94289999999995px;font-size:9.4px;">3</div>
<div class="box" style="left:532.8px;top:70.3px;width:19.5px;height:19.5px;background:#008080;"></div>
<div class="box" style="left:532.8px;top:89.7px;width:19.5px;height:19.5px;background:#48a09c;"></div>
<div class="box" style="left:532.8px;top:109.1px;width:19.5px;height:19.5px;background:#93c3c1;"></div>
<div class="box" style="left:532.8px;top:128.5px;width:19.5px;height:19.5px;background:#e0e1e2;"></div>
<div class="t" style="left:556.5px;top:77.14290000000001px;font-size:9.4px;">120</div>
<div class="t" style="left:556.5px;top:135.0429px;font-size:9.4px;">60</div>
<div class="t" style="left:530.6px;top:54.84289999999999px;font-size:9.4px;">DOM Molecular Richness</div>
<div class="box" style="left:532.8px;top:191.1px;width:19.5px;height:19.5px;background:#008080;"></div>
<div class="box" style="left:532.8px;top:210.5px;width:19.5px;height:19.5px;background:#48a09c;"></div>
<div class="box" style="left:532.8px;top:229.9px;width:19.5px;height:19.5px;background:#93c3c1;"></div>
<div class="box" style="left:532.8px;top:249.3px;width:19.5px;height:19.5px;background:#e0e1e2;"></div>
<div class="t" style="left:556.5px;top:197.94289999999998px;font-size:9.4px;">70</div>
<div class="t" style="left:556.5px;top:255.84289999999996px;font-size:9.4px;">30</div>
<div class="t" style="left:530.6px;top:158.34290000000001px;font-size:9.4px;">DOM Molecular Diversity</div>
<div class="t" style="left:530.6px;top:169.5429px;font-size:9.4px;">(Hill Numbers<span class="sub">(q=2)</span>)</div>
<div class="box" style="left:532.8px;top:313.5px;width:19.5px;height:19.5px;background:#008080;"></div>
<div class="box" style="left:532.8px;top:332.9px;width:19.5px;height:19.5px;background:#48a09c;"></div>
<div class="box" style="left:532.8px;top:352.3px;width:19.5px;height:19.5px;background:#93c3c1;"></div>
<div class="box" style="left:532.8px;top:371.7px;width:19.5px;height:19.5px;background:#e0e1e2;"></div>
<div class="t" style="left:556.5px;top:320.34289999999993px;font-size:9.4px;">6</div>
<div class="t" style="left:556.5px;top:378.2428999999999px;font-size:9.4px;">4.5</div>
<div class="t" style="left:530.6px;top:277.0429px;font-size:9.4px;letter-spacing:-0.15px;">DOM Functional Molecular Diversity</div>
<div class="t" style="left:530.6px;top:289.0429px;font-size:9.4px;">(Rao<span class="sub">(multivariate)</span>)</div>
<div class="t" style="left:385.6px;top:397.94289999999995px;font-size:9.4px;">Super Class</div>
<div class="box" style="left:385.1px;top:410.60px;width:19.7px;height:19.6px;background:#fffb8f;"></div>
<div class="t" style="left:408.9px;top:416.94289999999995px;font-size:9.4px;">Apocarotenoids</div>
<div class="box" style="left:385.1px;top:430.05px;width:19.7px;height:19.6px;background:#fec79c;"></div>
<div class="t" style="left:408.9px;top:436.39289999999994px;font-size:9.4px;">Aromatic polyketides</div>
<div class="box" style="left:385.1px;top:449.50px;width:19.7px;height:19.6px;background:#fdc868;"></div>
<div class="t" style="left:408.9px;top:455.84289999999993px;font-size:9.4px;">Coumarins</div>
<div class="box" style="left:385.1px;top:468.95px;width:19.7px;height:19.6px;background:#8c2518;"></div>
<div class="t" style="left:408.9px;top:475.2929px;font-size:9.4px;">Cyclic polyketides</div>
<div class="box" style="left:385.1px;top:488.40px;width:19.7px;height:19.6px;background:#6a3f68;"></div>
<div class="t" style="left:408.9px;top:494.74289999999996px;font-size:9.4px;">Diphenyl ethers (DPEs)</div>
<div class="box" style="left:385.1px;top:507.85px;width:19.7px;height:19.6px;background:#c994c8;"></div>
<div class="t" style="left:408.9px;top:514.1929000000001px;font-size:9.4px;">Eicosanoids</div>
<div class="box" style="left:385.1px;top:527.30px;width:19.7px;height:19.6px;background:#9ecdfc;"></div>
<div class="t" style="left:408.9px;top:533.6429px;font-size:9.4px;">Fatty Acids</div>
<div class="box" style="left:385.1px;top:546.75px;width:19.7px;height:19.6px;background:#3266cc;"></div>
<div class="t" style="left:408.9px;top:553.0929000000001px;font-size:9.4px;">Lignans</div>
<div class="box" style="left:552.5px;top:410.60px;width:19.7px;height:19.6px;background:#126699;"></div>
<div class="t" style="left:576.6px;top:416.94289999999995px;font-size:9.4px;">Nicotinic acid alkaloids</div>
<div class="box" style="left:552.5px;top:430.05px;width:19.7px;height:19.6px;background:#9999cc;"></div>
<div class="t" style="left:576.6px;top:436.39289999999994px;font-size:9.4px;">Octadecanoids</div>
<div class="box" style="left:552.5px;top:449.50px;width:19.7px;height:19.6px;background:#9999ff;"></div>
<div class="t" style="left:576.6px;top:455.84289999999993px;font-size:9.4px;">Phenolic acids</div>
<div class="box" style="left:552.5px;top:468.95px;width:19.7px;height:19.6px;background:#cc6699;"></div>
<div class="t" style="left:576.6px;top:475.2929px;font-size:9.4px;">Phenylpropanoids</div>
<div class="box" style="left:552.5px;top:488.40px;width:19.7px;height:19.6px;background:#cc6666;"></div>
<div class="t" style="left:576.6px;top:494.74289999999996px;font-size:9.4px;">Saccharides &amp; Flavonoids</div>
<div class="box" style="left:552.5px;top:507.85px;width:19.7px;height:19.6px;background:#ff9966;"></div>
<div class="t" style="left:576.6px;top:514.1929000000001px;font-size:9.4px;">Small peptides</div>
<div class="box" style="left:552.5px;top:527.30px;width:19.7px;height:19.6px;background:#b8a659;"></div>
<div class="t" style="left:576.6px;top:533.6429px;font-size:9.4px;">Steroids</div>
<div class="box" style="left:552.5px;top:546.75px;width:19.7px;height:19.6px;background:#6688cc;"></div>
<div class="t" style="left:576.6px;top:553.0929000000001px;font-size:9.4px;">Tryptophan alkaloids</div>
<div class="t" style="left:83.6px;width:40px;text-align:center;top:569.24px;">1</div>
<div class="t" style="left:116.5px;width:40px;text-align:center;top:569.24px;">2</div>
<div class="t" style="left:144.2px;width:40px;text-align:center;top:569.24px;">8</div>
<div class="t" style="left:177.2px;width:40px;text-align:center;top:569.24px;">32</div>
<div class="t" style="left:210.2px;width:40px;text-align:center;top:569.24px;">60</div>
<div class="t" style="left:240.5px;width:40px;text-align:center;top:569.24px;">100</div>
<div class="t" style="left:277px;width:40px;text-align:center;top:569.24px;">140</div>
<div class="t" style="left:310px;width:40px;text-align:center;top:569.24px;">220</div>
<div class="t" style="left:151.7px;top:586.94px;">Duration of Decomposition (days)</div>
<div class="t" style="left:0;top:0;transform-origin:0 0;transform:translate(57.6px,599.5px) rotate(-90deg) scaleY(1.05);">Cluster</div>
<div class="t" style="left:0;top:0;transform-origin:0 0;transform:translate(72.7px,621px) rotate(-90deg) scaleY(1.05);">Super Class</div>
</div></body></html>
